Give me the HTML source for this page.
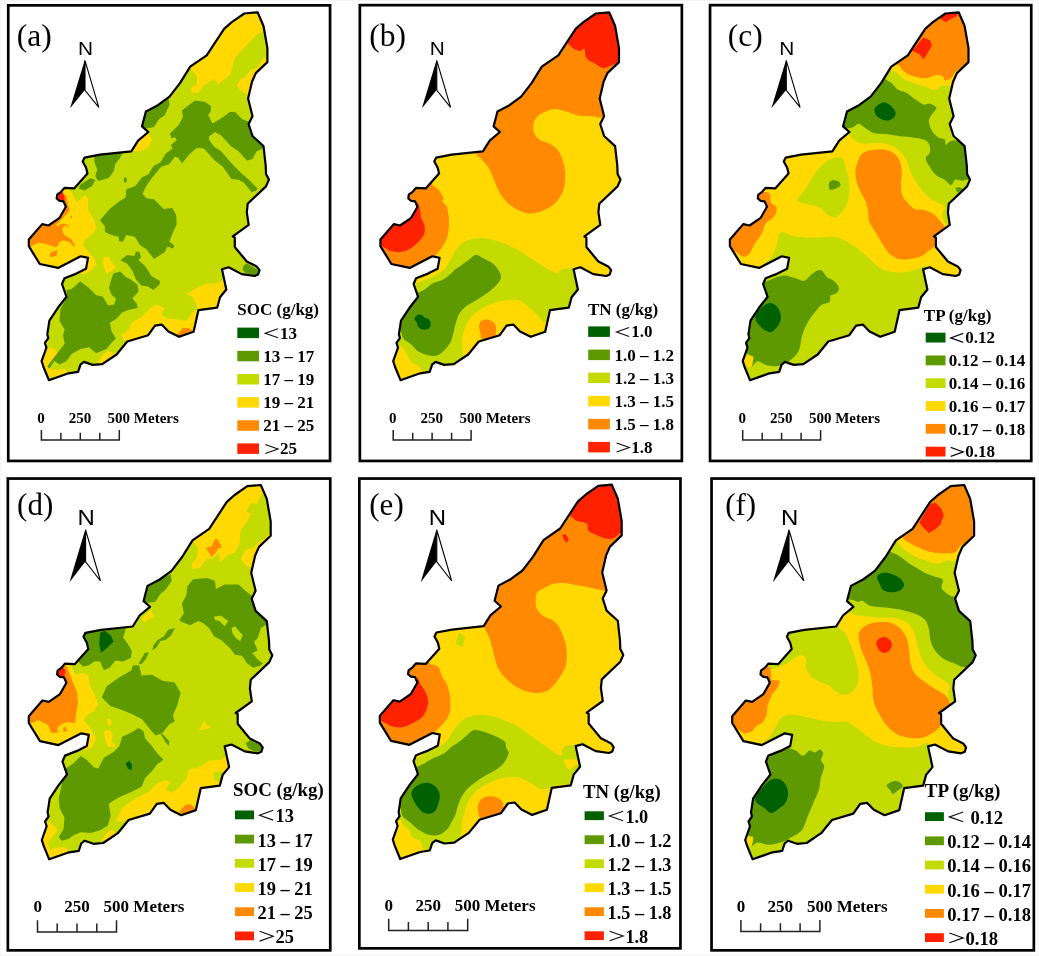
<!DOCTYPE html><html><head><meta charset="utf-8"><title>fig</title><style>html,body{margin:0;padding:0;background:#fff}svg{display:block;will-change:transform;opacity:0.999;filter:blur(0.35px)}text{font-family:"Liberation Serif",serif;fill:#000}.b{font-weight:bold}.s{font-family:"Liberation Sans",sans-serif}</style></head><body>
<svg width="1039" height="956" viewBox="0 0 1039 956">
<rect width="1039" height="956" fill="#fff"/>
<path d="M0,0H1039V956H0ZM1,1V954.5H1037.5V1Z" fill="#f5f5f5" fill-rule="evenodd"/>
<g id="pa">
<clipPath id="ca"><path d="M244.3,13.5L257.6,12.3L263.5,26L267.4,48.1L267.4,62.1L255.8,73.1L252,81.8L248.1,98.5L252.5,116.3L248.6,124L252.5,136L263.5,146.1L265.7,165.5L266,173.9L268.9,179.6L266,186.4L247.7,203.7L246.8,212.3L248.7,224.9L232.8,236.4L234.8,237.4L234.8,247L242,255.7L246.8,261.5L256.6,266.4L259.5,270.2L258.1,274.5L254.7,276L241.7,274.1L228.7,267.3L222,269.2L226.3,289.5L220,297.2L217.2,307.7L198.4,310.2L193.6,331.8L179.1,336.8L168.4,331.4L161.7,324.6L155,325.6L148.2,335.2L127.2,341.5L116.6,354.5L102.2,364.1L92.6,364.9L83.9,361.9L80.5,364.6L78.1,371.8L68.5,373.3L48.9,380.2L43.5,367L41.6,361.2L46.4,347.7L44.9,342.9L48.3,338.1L47.3,334.3L49.4,320.6L57.9,307.8L66.5,296.8L62,284L64.5,278.2L76.4,273.6L86,268.8L88,257.9L80.7,256.3L58.1,267.9L39.8,264L28.8,246.2L28.8,239.5L42.2,224.1L48.5,225.5L59.6,217.8L65.9,206.7L63.5,201.4L59.6,200.9L56.7,198.5L57.2,194.7L61.1,191.8L64.4,187.9L74.1,188.4L87.5,173.5L86.1,167.7L82.7,161.5L84.6,157.6L100,154.7L131.3,151.4L138.1,140.6L148.3,132L142,126.4L145.9,111.5L157.9,105.2L169.5,96.6L180,83.1L190.2,66.7L206.7,55.3L224.1,28.9L231.8,22.1Z"/></clipPath>
<g clip-path="url(#ca)"><path d="M244.3,13.5L257.6,12.3L263.5,26L267.4,48.1L267.4,62.1L255.8,73.1L252,81.8L248.1,98.5L252.5,116.3L248.6,124L252.5,136L263.5,146.1L265.7,165.5L266,173.9L268.9,179.6L266,186.4L247.7,203.7L246.8,212.3L248.7,224.9L232.8,236.4L234.8,237.4L234.8,247L242,255.7L246.8,261.5L256.6,266.4L259.5,270.2L258.1,274.5L254.7,276L241.7,274.1L228.7,267.3L222,269.2L226.3,289.5L220,297.2L217.2,307.7L198.4,310.2L193.6,331.8L179.1,336.8L168.4,331.4L161.7,324.6L155,325.6L148.2,335.2L127.2,341.5L116.6,354.5L102.2,364.1L92.6,364.9L83.9,361.9L80.5,364.6L78.1,371.8L68.5,373.3L48.9,380.2L43.5,367L41.6,361.2L46.4,347.7L44.9,342.9L48.3,338.1L47.3,334.3L49.4,320.6L57.9,307.8L66.5,296.8L62,284L64.5,278.2L76.4,273.6L86,268.8L88,257.9L80.7,256.3L58.1,267.9L39.8,264L28.8,246.2L28.8,239.5L42.2,224.1L48.5,225.5L59.6,217.8L65.9,206.7L63.5,201.4L59.6,200.9L56.7,198.5L57.2,194.7L61.1,191.8L64.4,187.9L74.1,188.4L87.5,173.5L86.1,167.7L82.7,161.5L84.6,157.6L100,154.7L131.3,151.4L138.1,140.6L148.3,132L142,126.4L145.9,111.5L157.9,105.2L169.5,96.6L180,83.1L190.2,66.7L206.7,55.3L224.1,28.9L231.8,22.1Z" fill="#c4db00"/>
<path d="M187.7,65.4L197.4,77L196.4,84.7L191.6,87.6L191.2,92.4L198.3,92.4L204.1,84.7L214.7,78.9L217.6,84.7L230.1,75.1L234.9,57.7L245.5,46.2L257,34.6L264.7,30.8L268.6,11.5L245.5,7.7L216.6,28.9Z" fill="#ffd900"/>
<path d="M264.7,57.7L262.8,58.7L258,67.4L250.3,70.3L245.5,77L240.7,78.9L236.8,85.7L240.7,90.5L247.4,94.3L253.2,96.2L260.9,73.1L272.4,61.6Z" fill="#ffd900"/>
<path d="M147.3,132.1L151.7,139L149.1,146.8L141.2,151.2L131.7,151.2L127.4,149.4L144.7,128.6Z" fill="#ffd900"/>
<path d="M66.4,185.8L72.2,193.5L77,202.2L84.7,195.4L87.6,197.4L88.5,210.8L94.3,220.5L96.2,228.2L92.4,233.9L84.7,239.7L82.8,245.5L89.5,253.2L94.3,258L96.2,264.7L90.5,270.5L84.7,274.4L77,272.4L57.7,272.4L19.2,264.7L19.2,222.4L53.9,187.7Z" fill="#ffd900"/>
<path d="M30.7,246.7L33.1,245.2L38.9,242.8L44.6,243.8L50.4,245.2L55.2,247.2L57.6,246.2L59.1,242.3L62.5,240.4L66.8,240.9L69.7,242.3L72.6,245.2L74.7,247.4L74,243.8L71.6,239.5L67.7,237.1L64.4,235.1L62.5,231.8L62.5,227.9L65.3,225.2L68.9,227.7L67.3,224.5L63.9,223.6L60,224.5L57.2,226.7L56.2,225L59.1,222.1L62,219.2L65.3,215.4L67.7,213.5L69.9,209.6L68.2,205.3L66.8,200L62,200L63.9,207.7L58.1,219.2L48.5,226L42.2,224.1L28.8,239.5L28.8,246.2Z" fill="#ff8a00"/>
<path d="M49.5,256.6L50.4,252.7L53.8,251.5L57.2,250L56.7,255.8L52.3,257Z" fill="#ff8a00"/>
<path d="M70.2,215.9L71.6,215.4L72.4,217.8L70.8,218.3Z" fill="#ff8a00"/>
<path d="M63.5,194.5L66.4,195.4L67.8,206L64.5,210.8L61.6,207Z" fill="#ff8a00"/>
<path d="M56.8,194.5L62.6,192L64.5,196.4L64.5,200.8L56.8,200.3Z" fill="#ff2200"/>
<path d="M103.8,256.9L109,256.9L111.6,262.1L115.9,267.3L111.6,270.8L106.4,273.4L103.8,267.3L102.9,262.1Z" fill="#ffd900"/>
<path d="M126.4,343.7L121.1,335L129,329.8L131.6,322.8L141.1,317.6L151.5,307.2L156.7,304.6L164.5,308.1L161.1,314.2L167.2,318.5L177.6,319.4L186.2,321.1L192.3,312.4L199.3,309L201.9,314.2L196.7,335L179.3,340.2L161.9,326.3L151.5,328.1L148.1,340.2Z" fill="#ffd900"/>
<path d="M176.7,335L182.8,328.1L188.9,328.1L193.2,331.5L179.3,338.5Z" fill="#ff8a00"/>
<path d="M186,293.7L194.7,289.3L205.1,284.1L217.3,283.3L224.2,278.9L229.4,289.3L219,309.3L197.3,311L197.3,307.6L193,297.2Z" fill="#ffd900"/>
<path d="M47.4,329.8L49.1,338.5L46.5,347.2L54.3,348.9L57.8,353.2L52.6,359.3L49.1,366.2L52.6,369.7L64.7,368.9L67.3,371.5L65.6,376.7L45.6,376.7L38.7,359.3L43.9,331.5Z" fill="#ffd900"/>
<path d="M97.7,362.8L101.2,356.7L108.1,350.6L113.3,354.1L122,348.9L123.8,354.1L111.6,362.8L99.4,364.5Z" fill="#ffd900"/>
<path d="M146.4,110.7L168.5,98.2L169.5,104.9L164.6,115.5L158.9,119.3L154.1,127L146.4,128.6L140.6,127Z" fill="#5e9900"/>
<path d="M195.1,100.5L204.6,101.7L211,106L210.7,112.1L208.1,114.7L212.4,123.4L222.8,117.3L229.8,112.1L235,111.8L241.9,119.1L248.9,121.7L250.6,130.3L255.8,139.9L264.5,146L261,149.4L256.7,151.2L252.4,159L247.2,160.7L238.5,151.2L231.5,146.8L221.1,135.6L215,132.1L209,136.4L209,139.9L214.2,146.8L221.1,151.2L231.5,163.3L241.9,173.8L248.9,179.8L257.6,188.5L255.8,191.1L251.5,192L243.7,182.4L238.5,179.8L231.5,179L222.8,166.8L214.2,159.9L203.8,148.6L196.8,147.7L189,154.7L182,163.3L178.6,158.1L175.1,156.4L169,164.2L161.2,166.8L152.5,177.2L146.8,185L143,192.8L136,201.5L125.6,198.1L126.5,189.4L135.2,185.9L142.1,177.2L148.2,174.6L153.4,165.9L160.3,162.5L165.6,153.8L172.5,148.6L170.8,145.1L176.8,139.9L175.1,137.3L171.6,138.2L169.9,133.8L178.6,125.1L182.9,117.3L182,110.4L189.9,104.3Z" fill="#5e9900"/>
<path d="M94.3,156L123.2,152.1L119.3,158.9L115.5,163.7L113.6,171.4L108.8,178.1L98.2,181L95.3,176.2L97.2,169.5L94.3,161.8Z" fill="#5e9900"/>
<path d="M79.9,184.9L90.5,178.1L95.3,180L92.4,185.8L84.7,190.6L78.9,188.7Z" fill="#5e9900"/>
<path d="M124.2,177.2L127,178.1L126.1,182.9L123.6,181.6Z" fill="#5e9900"/>
<path d="M128,187.7L134.7,193.5L142.4,193.5L146.3,198.3L154,199.3L163.6,208.9L172.3,208L176.1,214.7L176.7,224.3L172.3,233.9L169.4,241.6L174.2,245.5L173.2,248.4L167.5,246.5L164.6,252.2L154,259L146.3,249.3L140.5,245.5L134.7,236.8L126.1,234.9L123.2,241.6L119.3,241.6L118.4,236.8L111.6,234.9L104.9,232L104.9,226.2L100.1,220.5L103.9,215.7L109.7,208.9L119.3,201.2L127,196.4L126.1,191.6Z" fill="#5e9900"/>
<path d="M120.3,260.3L127.2,255.1L134.2,256L135.9,251.7L139.4,251.7L141.1,256.9L138.5,260.3L144.6,265.6L151.5,276L160.2,281.2L159.3,284.7L153.3,289.9L148.1,286.4L141.1,285.5L135.9,279.4L132.4,270.8L127.2,263.8Z" fill="#5e9900"/>
<path d="M113.3,273.4L120.3,271.6L125.5,276.8L130.7,279.4L137.6,284.7L138.5,291.6L132.4,298.5L136.8,303.8L137.6,308.1L129,309.8L122,312.4L116.8,318.5L109.9,322.8L111.6,331.5L115.9,338.5L111.6,342.8L106.4,348.9L96,353.2L89,347.2L80.3,348.9L71.7,354.1L66.5,361L59.5,364.5L54.3,361L49.1,368.9L47.4,366.2L52.6,359.3L57.8,352.4L64.7,343.7L63,335L64.7,329.8L59.5,321.1L60.4,309L67.3,296.8L66.5,289.9L71.7,289L80.3,281.2L89,288.1L96,295.1L102.9,296.8L108.1,305.5L114.2,304.6L115.9,298.5L111.6,295.1L109,288.1L110.7,281.2Z" fill="#5e9900"/>
<path d="M243.3,265.9L246.8,263.3L257.2,269.4L259.8,273.7L253.8,276.3L245.1,272.8L242.5,269.4Z" fill="#5e9900"/>
</g>
<path d="M244.3,13.5L257.6,12.3L263.5,26L267.4,48.1L267.4,62.1L255.8,73.1L252,81.8L248.1,98.5L252.5,116.3L248.6,124L252.5,136L263.5,146.1L265.7,165.5L266,173.9L268.9,179.6L266,186.4L247.7,203.7L246.8,212.3L248.7,224.9L232.8,236.4L234.8,237.4L234.8,247L242,255.7L246.8,261.5L256.6,266.4L259.5,270.2L258.1,274.5L254.7,276L241.7,274.1L228.7,267.3L222,269.2L226.3,289.5L220,297.2L217.2,307.7L198.4,310.2L193.6,331.8L179.1,336.8L168.4,331.4L161.7,324.6L155,325.6L148.2,335.2L127.2,341.5L116.6,354.5L102.2,364.1L92.6,364.9L83.9,361.9L80.5,364.6L78.1,371.8L68.5,373.3L48.9,380.2L43.5,367L41.6,361.2L46.4,347.7L44.9,342.9L48.3,338.1L47.3,334.3L49.4,320.6L57.9,307.8L66.5,296.8L62,284L64.5,278.2L76.4,273.6L86,268.8L88,257.9L80.7,256.3L58.1,267.9L39.8,264L28.8,246.2L28.8,239.5L42.2,224.1L48.5,225.5L59.6,217.8L65.9,206.7L63.5,201.4L59.6,200.9L56.7,198.5L57.2,194.7L61.1,191.8L64.4,187.9L74.1,188.4L87.5,173.5L86.1,167.7L82.7,161.5L84.6,157.6L100,154.7L131.3,151.4L138.1,140.6L148.3,132L142,126.4L145.9,111.5L157.9,105.2L169.5,96.6L180,83.1L190.2,66.7L206.7,55.3L224.1,28.9L231.8,22.1Z" fill="none" stroke="#000" stroke-width="2.2" stroke-linejoin="round"/>
<rect x="8.25" y="5.35" width="321.80" height="455.60" fill="none" stroke="#000" stroke-width="2.7"/>
<text x="0" y="46.4" font-size="31.2" text-anchor="middle" transform="translate(34.3 0) scale(1.01 1)">(a)</text>
<text class="s" x="0" y="55.3" font-size="18.75" text-anchor="middle" transform="translate(85.4 0) scale(1.11 1)">N</text>
<path d="M85,59.2L70.1,108.3L85,89.7Z" fill="#000"/>
<path d="M85,60.6L98.8,107.3L85,90.3Z" fill="#fff" stroke="#000" stroke-width="1.1"/>
<path d="M41.4,430.1V440.1H119.3V430.1M60.9,432.8V440.1M80.3,432.8V440.1M99.8,432.8V440.1" fill="none" stroke="#222" stroke-width="1.5"/>
<text class="b" x="37.3" y="422.8" font-size="15">0</text>
<text class="b" x="68.7" y="422.8" font-size="15">250</text>
<text class="b" x="107.6" y="422.8" font-size="15">500 Meters</text>
<text class="b" x="0" y="315.4" font-size="17" transform="translate(237.3 0) scale(1.0 1)">SOC (g/kg)</text>
<rect x="237.3" y="327.6" width="21.7" height="10.5" fill="#006100"/>
<path d="M277.9,328.7L265.3,333.2L277.9,337.7" fill="none" stroke="#111" stroke-width="1.2"/>
<text class="b" x="279.9" y="338.6" font-size="17">13</text>
<rect x="237.3" y="350.8" width="21.7" height="10.5" fill="#5e9900"/>
<text class="b" x="263.3" y="361.8" font-size="17">13 – 17</text>
<rect x="237.3" y="374.0" width="21.7" height="10.5" fill="#c4db00"/>
<text class="b" x="263.3" y="384.9" font-size="17">17 – 19</text>
<rect x="237.3" y="397.1" width="21.7" height="10.5" fill="#ffd900"/>
<text class="b" x="263.3" y="408.1" font-size="17">19 – 21</text>
<rect x="237.3" y="420.3" width="21.7" height="10.5" fill="#ff8a00"/>
<text class="b" x="263.3" y="431.2" font-size="17">21 – 25</text>
<rect x="237.3" y="443.4" width="21.7" height="10.5" fill="#ff2200"/>
<path d="M265.3,444.5L277.9,449.0L265.3,453.5" fill="none" stroke="#111" stroke-width="1.2"/>
<text class="b" x="279.9" y="454.4" font-size="17">25</text>
</g>
<g id="pb">
<clipPath id="cb"><path d="M595.9,13.5L609.2,12.3L615.1,26L619,48.1L619,62.1L607.4,73.1L603.6,81.8L599.7,98.5L604.1,116.3L600.2,124L604.1,136L615.1,146.1L617.3,165.5L617.6,173.9L620.5,179.6L617.6,186.4L599.3,203.7L598.4,212.3L600.3,224.9L584.4,236.4L586.4,237.4L586.4,247L593.6,255.7L598.4,261.5L608.2,266.4L611.1,270.2L609.7,274.5L606.3,276L593.3,274.1L580.3,267.3L573.6,269.2L577.9,289.5L571.6,297.2L568.8,307.7L550,310.2L545.2,331.8L530.7,336.8L520,331.4L513.3,324.6L506.6,325.6L499.8,335.2L478.8,341.5L468.2,354.5L453.8,364.1L444.2,364.9L435.5,361.9L432.1,364.6L429.7,371.8L420.1,373.3L400.5,380.2L395.1,367L393.2,361.2L398,347.7L396.5,342.9L399.9,338.1L398.9,334.3L401,320.6L409.5,307.8L418.1,296.8L413.6,284L416.1,278.2L428,273.6L437.6,268.8L439.6,257.9L432.3,256.3L409.7,267.9L391.4,264L380.4,246.2L380.4,239.5L393.8,224.1L400.1,225.5L411.2,217.8L417.5,206.7L415.1,201.4L411.2,200.9L408.3,198.5L408.8,194.7L412.7,191.8L416,187.9L425.7,188.4L439.1,173.5L437.7,167.7L434.3,161.5L436.2,157.6L451.6,154.7L482.9,151.4L489.7,140.6L499.9,132L493.6,126.4L497.5,111.5L509.5,105.2L521.1,96.6L531.6,83.1L541.8,66.7L558.3,55.3L575.7,28.9L583.4,22.1Z"/></clipPath>
<g clip-path="url(#cb)"><path d="M595.9,13.5L609.2,12.3L615.1,26L619,48.1L619,62.1L607.4,73.1L603.6,81.8L599.7,98.5L604.1,116.3L600.2,124L604.1,136L615.1,146.1L617.3,165.5L617.6,173.9L620.5,179.6L617.6,186.4L599.3,203.7L598.4,212.3L600.3,224.9L584.4,236.4L586.4,237.4L586.4,247L593.6,255.7L598.4,261.5L608.2,266.4L611.1,270.2L609.7,274.5L606.3,276L593.3,274.1L580.3,267.3L573.6,269.2L577.9,289.5L571.6,297.2L568.8,307.7L550,310.2L545.2,331.8L530.7,336.8L520,331.4L513.3,324.6L506.6,325.6L499.8,335.2L478.8,341.5L468.2,354.5L453.8,364.1L444.2,364.9L435.5,361.9L432.1,364.6L429.7,371.8L420.1,373.3L400.5,380.2L395.1,367L393.2,361.2L398,347.7L396.5,342.9L399.9,338.1L398.9,334.3L401,320.6L409.5,307.8L418.1,296.8L413.6,284L416.1,278.2L428,273.6L437.6,268.8L439.6,257.9L432.3,256.3L409.7,267.9L391.4,264L380.4,246.2L380.4,239.5L393.8,224.1L400.1,225.5L411.2,217.8L417.5,206.7L415.1,201.4L411.2,200.9L408.3,198.5L408.8,194.7L412.7,191.8L416,187.9L425.7,188.4L439.1,173.5L437.7,167.7L434.3,161.5L436.2,157.6L451.6,154.7L482.9,151.4L489.7,140.6L499.9,132L493.6,126.4L497.5,111.5L509.5,105.2L521.1,96.6L531.6,83.1L541.8,66.7L558.3,55.3L575.7,28.9L583.4,22.1Z" fill="#ffd900"/>
<path d="M474,140C475.1,149.0 475.2,150.7 476.5,153.9C477.8,157.1 479.6,156.7 481.7,159.2C483.8,161.7 486.9,164.6 489.2,168.7C491.5,172.8 493.4,178.9 495.5,183.5C497.6,188.1 499.1,192.3 501.9,196.2C504.7,200.1 508.2,204.0 512.4,206.8C516.6,209.6 522.3,212.5 527.3,213.2C532.2,213.9 537.5,212.6 542.1,211C546.7,209.4 551.4,206.6 554.8,203.6C558.1,200.6 560.5,196.7 562.2,193C563.9,189.3 564.6,185.8 565,181.4C565.4,177.0 565.3,171.5 564.3,166.6C563.3,161.7 561.3,155.5 559,151.8C556.7,148.1 553.8,146.2 550.6,144.3C547.4,142.4 542.8,142.0 540,140.1C537.2,138.2 535.1,135.3 534,132.7C532.9,130.0 533.2,126.7 533.5,124.2C533.8,121.8 534.6,119.8 536,118C537.4,116.2 538.9,114.8 542,113.3C545.1,111.8 550.5,109.2 554.7,109C558.9,108.8 563.5,110.7 567.4,111.8C571.3,112.9 574.5,114.7 578,115.4C581.5,116.1 584.6,115.7 588.6,116C592.6,116.3 597.9,117.3 602.3,117.5C606.7,117.7 608.7,126.6 615,117C621.3,107.4 639.2,79.5 640,60C640.8,40.5 630.0,10.0 620,0C610.0,-10.0 605.0,-16.7 580,0C555.0,16.7 487.7,76.7 470,100C452.3,123.3 472.9,131.0 474,140Z" fill="#ff8a00"/>
<path d="M560,36C556.3,43.2 565.5,41.3 567.8,43.4C570.1,45.5 571.7,47.5 573.7,48.7C575.8,49.9 578.3,50.7 580.1,50.8C581.9,50.9 583.2,47.9 584.3,49.1C585.4,50.3 584.7,55.8 586.5,58.2C588.3,60.6 592.1,61.8 594.9,63.5C597.7,65.2 600.8,67.9 603.4,68.2C606.0,68.5 608.3,66.5 610.8,65.6C613.3,64.6 615.0,64.3 618.2,62.5C621.4,60.7 628.9,64.6 630,55C631.1,45.4 631.7,14.2 625,5C618.3,-4.2 600.8,-5.2 590,0C579.2,5.2 563.7,28.8 560,36Z" fill="#ff2200"/>
<path d="M428,180C433.5,179.3 431.1,183.8 433,185.6C434.9,187.4 437.6,188.8 439.4,190.9C441.2,193.0 443.2,196.5 443.6,198.3C444.0,200.1 441.5,200.1 442,201.5C442.5,202.9 445.7,203.8 446.8,206.8C447.9,209.8 448.7,214.9 448.9,219.5C449.1,224.1 448.8,230.1 447.9,234.3C447.0,238.5 445.6,241.6 443.6,244.9C441.7,248.2 438.5,251.9 436.2,254.4C433.9,256.9 436.0,256.6 430,260C424.0,263.4 410.0,276.7 400,275C390.0,273.3 374.2,258.3 370,250C365.8,241.7 370.0,235.0 375,225C380.0,215.0 391.2,197.5 400,190C408.8,182.5 422.5,180.7 428,180Z" fill="#ff8a00"/>
<path d="M417,203C419.6,204.0 419.6,208.6 420.3,211C421.0,213.4 420.3,214.9 421,217.4C421.7,219.9 424.2,222.9 424.6,225.9C425.0,228.9 425.1,232.2 423.5,235.4C421.9,238.6 418.2,242.2 415,244.9C411.8,247.6 408.4,250.2 404.5,251.3C400.6,252.4 395.3,252.0 391.8,251.3C388.3,250.6 386.6,248.9 383.3,247C380.0,245.1 371.7,245.3 372,240C372.3,234.7 379.5,220.8 385,215C390.5,209.2 399.7,207.0 405,205C410.3,203.0 414.4,202.0 417,203Z" fill="#ff2200"/>
<path d="M406,287C409.4,281.8 412.8,284.7 415.6,283.7C418.5,282.7 420.1,282.1 423.1,280.8C426.1,279.6 430.2,277.9 433.5,276.2C436.8,274.5 440.0,272.9 442.7,270.4C445.4,267.9 447.6,264.5 449.7,261.2C451.8,257.9 453.5,253.7 455.4,250.8C457.3,247.9 458.9,245.7 461.2,243.9C463.5,242.1 466.0,240.8 469.3,239.8C472.6,238.8 477.0,238.1 480.9,238.1C484.8,238.1 488.5,238.9 492.4,239.8C496.2,240.7 500.1,241.8 504,243.3C507.9,244.8 510.8,245.9 515.5,248.6C520.2,251.2 526.8,255.7 532.4,259.2C538.0,262.7 545.1,267.5 549.4,269.8C553.6,272.1 555.8,273.0 557.9,272.9C560.0,272.8 559.3,269.9 562.1,269.1C564.9,268.3 571.0,268.5 574.8,268.3C578.6,268.1 582.8,264.4 585,268C587.2,271.6 590.2,283.0 588,290C585.8,297.0 576.7,306.9 572,310C567.3,313.1 563.3,307.8 560,308.5C556.7,309.2 554.5,311.8 552,314C549.5,316.2 546.9,321.1 545,322C543.1,322.9 542.3,320.8 540.9,319.5C539.5,318.2 538.8,316.3 536.7,314.2C534.6,312.1 531.2,309.1 528.2,306.8C525.2,304.5 522.3,301.4 519,300.2C515.7,299.0 511.9,299.7 508.6,299.9C505.3,300.1 502.6,300.7 499.3,301.6C496.0,302.5 492.4,303.6 488.9,305.1C485.4,306.7 481.6,308.8 478.5,310.9C475.4,313.0 472.6,315.3 470.5,317.8C468.4,320.3 467.1,323.2 465.8,325.9C464.6,328.6 463.7,331.2 463,333.9C462.3,336.6 461.8,338.4 461.7,342C461.6,345.6 463.2,352.2 462.6,355.5C462.0,358.8 460.4,359.1 458.3,361.9C456.2,364.6 455.5,370.0 450,372C444.5,374.0 430.6,375.0 425.5,374C420.4,373.0 421.5,368.0 419.2,366.1C416.9,364.2 413.8,364.7 411.8,362.9C409.9,361.1 409.1,358.1 407.5,355.5C405.9,352.9 403.8,348.8 402.2,347C400.6,345.2 400.4,346.1 398,344.9C395.6,343.7 388.5,345.0 388,340C387.5,335.0 392.0,323.8 395,315C398.0,306.2 402.6,292.2 406,287Z" fill="#c4db00"/>
<path d="M476.2,254.8C478.5,254.6 480.7,257.1 483.2,258.3C485.7,259.6 488.9,260.7 491.2,262.3C493.5,263.9 495.4,265.8 497,268.1C498.6,270.4 500.9,273.7 501.1,276.2C501.3,278.7 499.9,280.8 498.2,283.1C496.5,285.4 493.7,288.0 491.2,290.1C488.7,292.2 486.1,293.9 483.2,295.8C480.3,297.7 477.0,299.7 473.9,301.6C470.8,303.5 467.2,305.3 464.7,307.4C462.2,309.5 460.4,311.4 458.9,314.3C457.3,317.2 456.4,321.4 455.4,324.7C454.4,328.0 454.1,330.7 453.1,333.9C452.1,337.1 451.8,340.6 449.5,344C447.2,347.4 442.8,352.5 439.3,354.4C435.8,356.3 432.2,356.0 428.7,355.5C425.2,355.0 420.9,353.1 418.1,351.3C415.3,349.5 414.3,347.0 411.8,344.9C409.3,342.8 405.2,341.1 403.3,338.6C401.4,336.1 402.0,332.9 400.1,330.1C398.2,327.3 391.2,327.4 392,322C392.8,316.6 400.6,302.9 405,298C409.4,293.1 415.1,293.9 418.5,292.4C421.9,290.9 422.9,290.4 425.4,288.9C427.9,287.3 430.6,284.6 433.5,283.1C436.4,281.6 439.6,281.4 442.7,279.7C445.8,278.0 449.9,274.4 452,272.7C454.1,271.0 453.7,270.6 455.4,269.3C457.1,268.0 460.1,266.2 462.4,264.6C464.7,263.0 467.0,261.1 469.3,259.5C471.6,257.9 473.9,255.0 476.2,254.8Z" fill="#5e9900"/>
<path d="M414.4,318.9C414.5,317.6 416.1,315.6 417.3,314.9C418.6,314.2 420.6,314.4 421.9,314.9C423.1,315.4 423.7,317.1 424.8,317.8C425.9,318.5 427.3,318.1 428.3,318.9C429.3,319.7 430.3,321.0 430.6,322.4C430.9,323.8 430.6,325.9 430,327C429.4,328.1 428.5,328.9 427.1,329.3C425.8,329.7 423.4,329.8 421.9,329.3C420.4,328.8 418.8,327.5 417.9,326.4C417.0,325.2 417.3,323.6 416.7,322.4C416.1,321.1 414.3,320.1 414.4,318.9Z" fill="#006100"/>
<path d="M479.1,325.9C479.2,324.0 479.8,322.3 480.9,321.2C482.0,320.1 483.8,319.6 485.5,319.5C487.2,319.4 489.6,319.8 491.2,320.7C492.8,321.6 494.5,323.1 495.3,324.7C496.1,326.3 496.1,328.4 495.9,330.5C495.7,332.6 496.2,335.9 494.1,337.5C492.0,339.1 485.5,340.8 483.2,340C480.9,339.2 481.0,335.2 480.3,332.8C479.6,330.4 479.0,327.8 479.1,325.9Z" fill="#ff8a00"/>
</g>
<path d="M595.9,13.5L609.2,12.3L615.1,26L619,48.1L619,62.1L607.4,73.1L603.6,81.8L599.7,98.5L604.1,116.3L600.2,124L604.1,136L615.1,146.1L617.3,165.5L617.6,173.9L620.5,179.6L617.6,186.4L599.3,203.7L598.4,212.3L600.3,224.9L584.4,236.4L586.4,237.4L586.4,247L593.6,255.7L598.4,261.5L608.2,266.4L611.1,270.2L609.7,274.5L606.3,276L593.3,274.1L580.3,267.3L573.6,269.2L577.9,289.5L571.6,297.2L568.8,307.7L550,310.2L545.2,331.8L530.7,336.8L520,331.4L513.3,324.6L506.6,325.6L499.8,335.2L478.8,341.5L468.2,354.5L453.8,364.1L444.2,364.9L435.5,361.9L432.1,364.6L429.7,371.8L420.1,373.3L400.5,380.2L395.1,367L393.2,361.2L398,347.7L396.5,342.9L399.9,338.1L398.9,334.3L401,320.6L409.5,307.8L418.1,296.8L413.6,284L416.1,278.2L428,273.6L437.6,268.8L439.6,257.9L432.3,256.3L409.7,267.9L391.4,264L380.4,246.2L380.4,239.5L393.8,224.1L400.1,225.5L411.2,217.8L417.5,206.7L415.1,201.4L411.2,200.9L408.3,198.5L408.8,194.7L412.7,191.8L416,187.9L425.7,188.4L439.1,173.5L437.7,167.7L434.3,161.5L436.2,157.6L451.6,154.7L482.9,151.4L489.7,140.6L499.9,132L493.6,126.4L497.5,111.5L509.5,105.2L521.1,96.6L531.6,83.1L541.8,66.7L558.3,55.3L575.7,28.9L583.4,22.1Z" fill="none" stroke="#000" stroke-width="2.2" stroke-linejoin="round"/>
<rect x="359.85" y="5.15" width="322.00" height="455.80" fill="none" stroke="#000" stroke-width="2.7"/>
<text x="0" y="46.4" font-size="31.2" text-anchor="middle" transform="translate(387.6 0) scale(1.01 1)">(b)</text>
<text class="s" x="0" y="55.3" font-size="18.75" text-anchor="middle" transform="translate(437.2 0) scale(1.11 1)">N</text>
<path d="M436.8,59.2L421.9,108.3L436.8,89.7Z" fill="#000"/>
<path d="M436.8,60.6L450.6,107.3L436.8,90.3Z" fill="#fff" stroke="#000" stroke-width="1.1"/>
<path d="M393.2,430.1V440.1H471.1V430.1M412.7,432.8V440.1M432.1,432.8V440.1M451.6,432.8V440.1" fill="none" stroke="#222" stroke-width="1.5"/>
<text class="b" x="389.1" y="422.8" font-size="15">0</text>
<text class="b" x="420.5" y="422.8" font-size="15">250</text>
<text class="b" x="459.4" y="422.8" font-size="15">500 Meters</text>
<text class="b" x="0" y="315.4" font-size="17" transform="translate(587.9 0) scale(1.0 1)">TN (g/kg)</text>
<rect x="588.2" y="326.4" width="21.7" height="10.5" fill="#006100"/>
<path d="M629.2,327.5L616.6,332.0L629.2,336.5" fill="none" stroke="#111" stroke-width="1.2"/>
<text class="b" x="631.2" y="337.4" font-size="17">1.0</text>
<rect x="588.2" y="349.6" width="21.7" height="10.5" fill="#5e9900"/>
<text class="b" x="614.6" y="360.5" font-size="17">1.0 – 1.2</text>
<rect x="588.2" y="372.6" width="21.7" height="10.5" fill="#c4db00"/>
<text class="b" x="614.6" y="383.6" font-size="17">1.2 – 1.3</text>
<rect x="588.2" y="395.8" width="21.7" height="10.5" fill="#ffd900"/>
<text class="b" x="614.6" y="406.7" font-size="17">1.3 – 1.5</text>
<rect x="588.2" y="418.9" width="21.7" height="10.5" fill="#ff8a00"/>
<text class="b" x="614.6" y="429.8" font-size="17">1.5 – 1.8</text>
<rect x="588.2" y="441.9" width="21.7" height="10.5" fill="#ff2200"/>
<path d="M616.6,443.0L629.2,447.5L616.6,452.0" fill="none" stroke="#111" stroke-width="1.2"/>
<text class="b" x="631.2" y="452.9" font-size="17">1.8</text>
</g>
<g id="pc">
<clipPath id="cc"><path d="M945.4,13.5L958.7,12.3L964.6,26L968.5,48.1L968.5,62.1L956.9,73.1L953.1,81.8L949.2,98.5L953.6,116.3L949.7,124L953.6,136L964.6,146.1L966.8,165.5L967.1,173.9L970,179.6L967.1,186.4L948.8,203.7L947.9,212.3L949.8,224.9L933.9,236.4L935.9,237.4L935.9,247L943.1,255.7L947.9,261.5L957.7,266.4L960.6,270.2L959.2,274.5L955.8,276L942.8,274.1L929.8,267.3L923.1,269.2L927.4,289.5L921.1,297.2L918.3,307.7L899.5,310.2L894.7,331.8L880.2,336.8L869.5,331.4L862.8,324.6L856.1,325.6L849.3,335.2L828.3,341.5L817.7,354.5L803.3,364.1L793.7,364.9L785,361.9L781.6,364.6L779.2,371.8L769.6,373.3L750,380.2L744.6,367L742.7,361.2L747.5,347.7L746,342.9L749.4,338.1L748.4,334.3L750.5,320.6L759,307.8L767.6,296.8L763.1,284L765.6,278.2L777.5,273.6L787.1,268.8L789.1,257.9L781.8,256.3L759.2,267.9L740.9,264L729.9,246.2L729.9,239.5L743.3,224.1L749.6,225.5L760.7,217.8L767,206.7L764.6,201.4L760.7,200.9L757.8,198.5L758.3,194.7L762.2,191.8L765.5,187.9L775.2,188.4L788.6,173.5L787.2,167.7L783.8,161.5L785.7,157.6L801.1,154.7L832.4,151.4L839.2,140.6L849.4,132L843.1,126.4L847,111.5L859,105.2L870.6,96.6L881.1,83.1L891.3,66.7L907.8,55.3L925.2,28.9L932.9,22.1Z"/></clipPath>
<g clip-path="url(#cc)"><path d="M945.4,13.5L958.7,12.3L964.6,26L968.5,48.1L968.5,62.1L956.9,73.1L953.1,81.8L949.2,98.5L953.6,116.3L949.7,124L953.6,136L964.6,146.1L966.8,165.5L967.1,173.9L970,179.6L967.1,186.4L948.8,203.7L947.9,212.3L949.8,224.9L933.9,236.4L935.9,237.4L935.9,247L943.1,255.7L947.9,261.5L957.7,266.4L960.6,270.2L959.2,274.5L955.8,276L942.8,274.1L929.8,267.3L923.1,269.2L927.4,289.5L921.1,297.2L918.3,307.7L899.5,310.2L894.7,331.8L880.2,336.8L869.5,331.4L862.8,324.6L856.1,325.6L849.3,335.2L828.3,341.5L817.7,354.5L803.3,364.1L793.7,364.9L785,361.9L781.6,364.6L779.2,371.8L769.6,373.3L750,380.2L744.6,367L742.7,361.2L747.5,347.7L746,342.9L749.4,338.1L748.4,334.3L750.5,320.6L759,307.8L767.6,296.8L763.1,284L765.6,278.2L777.5,273.6L787.1,268.8L789.1,257.9L781.8,256.3L759.2,267.9L740.9,264L729.9,246.2L729.9,239.5L743.3,224.1L749.6,225.5L760.7,217.8L767,206.7L764.6,201.4L760.7,200.9L757.8,198.5L758.3,194.7L762.2,191.8L765.5,187.9L775.2,188.4L788.6,173.5L787.2,167.7L783.8,161.5L785.7,157.6L801.1,154.7L832.4,151.4L839.2,140.6L849.4,132L843.1,126.4L847,111.5L859,105.2L870.6,96.6L881.1,83.1L891.3,66.7L907.8,55.3L925.2,28.9L932.9,22.1Z" fill="#ffd900"/>
<path d="M840,128C834.6,140.2 845.2,131.3 847.5,133.2C849.8,135.1 851.3,137.8 853.8,139.5C856.3,141.2 858.1,143.2 862.3,143.7C866.5,144.2 874.3,142.3 879.2,142.7C884.1,143.0 888.4,144.2 891.9,145.8C895.4,147.4 897.8,149.7 900.3,152.2C902.8,154.7 904.9,157.1 906.7,160.6C908.5,164.1 909.1,169.4 910.9,173.3C912.6,177.2 914.7,180.4 917.2,183.9C919.7,187.4 923.2,191.9 925.7,194.5C928.2,197.1 929.5,198.1 932,199.7C934.5,201.3 938.8,202.8 941,204.1C943.2,205.4 944.8,205.8 945,207.5C945.2,209.2 941.9,211.8 942,214.4C942.1,217.0 943.3,221.2 945.5,223C947.7,224.8 947.6,233.8 955,225C962.4,216.2 986.7,199.2 990,170C993.3,140.8 983.3,78.3 975,50C966.7,21.7 955.8,-1.7 940,0C924.2,1.7 896.7,38.7 880,60C863.3,81.3 845.4,115.8 840,128Z" fill="#c4db00"/>
<path d="M888,62C882.5,72.5 894.5,70.0 897.2,72.9C900.0,75.8 901.5,77.5 904.5,79.3C907.5,81.1 911.6,82.3 915.1,83.5C918.6,84.7 922.4,85.7 925.7,86.7C929.1,87.8 932.4,90.0 935.2,89.8C938.0,89.6 940.1,86.3 942.6,85.6C945.1,84.9 947.6,86.5 950,85.6C952.4,84.7 952.8,84.3 957,80C961.2,75.7 974.5,71.7 975,60C975.5,48.3 967.5,18.3 960,10C952.5,1.7 942.0,1.3 930,10C918.0,18.7 893.5,51.5 888,62Z" fill="#ffd900"/>
<path d="M893,58C887.0,68.1 897.4,63.2 899.3,65.5C901.2,67.8 902.2,70.1 904.5,71.9C906.8,73.7 909.5,75.0 913,76.1C916.5,77.1 921.8,78.4 925.7,78.2C929.6,78.0 933.5,75.3 936.3,75C939.1,74.7 941.2,75.2 942.6,76.1C944.0,77.0 943.3,79.9 944.7,80.3C946.1,80.7 949.2,79.6 951,78.2C952.8,76.8 953.9,73.5 955.3,71.9C956.7,70.3 956.7,70.7 959.5,68.7C962.3,66.7 971.1,70.6 972,60C972.9,49.4 971.2,14.2 965,5C958.8,-4.2 947.0,-3.8 935,5C923.0,13.8 899.0,47.9 893,58Z" fill="#ff8a00"/>
<path d="M938.4,16.9L944.7,12.7L957.4,11.6L957.4,15.9L951.1,19L945.8,22.2L942.6,20.1Z" fill="#ff2200"/>
<path d="M911.9,50.7L923.6,37.6L929.9,40.2L932,45.4L927.8,52.8L923.6,59.2L919.3,53.9Z" fill="#ff2200"/>
<path d="M880,75C888.4,69.9 883.5,77.9 885.5,79.3C887.5,80.7 889.8,81.8 891.9,83.5C894.0,85.2 895.7,88.2 898.2,89.8C900.7,91.4 903.9,91.4 906.7,93C909.5,94.6 912.3,97.4 915.1,99.3C917.9,101.2 921.1,103.9 923.6,104.6C926.1,105.3 927.8,103.1 929.9,103.6C932.0,104.1 935.8,106.2 936.3,107.8C936.8,109.4 934.3,111.0 933.1,113.1C931.9,115.2 929.1,117.5 928.9,120.5C928.7,123.5 930.4,128.2 932,131C933.6,133.8 936.3,136.0 938.4,137.4C940.5,138.8 943.5,138.3 944.7,139.5C945.9,140.7 944.9,144.5 945.8,144.8C946.7,145.2 948.4,142.3 950,141.6C951.6,140.9 952.3,140.5 955.3,140.6C958.3,140.7 964.7,138.8 968,142C971.3,145.2 974.3,154.0 975,160C975.7,166.0 973.5,174.7 972,178C970.5,181.3 967.6,179.2 965.9,179.7C964.2,180.1 963.4,180.7 961.6,180.7C959.8,180.7 957.1,179.0 955.3,179.7C953.5,180.4 952.8,185.0 951,185C949.2,185.0 947.2,181.3 944.7,179.7C942.2,178.1 938.8,177.5 936.3,175.4C933.8,173.3 931.7,169.8 929.9,167C928.1,164.2 925.7,161.0 925.7,158.5C925.7,156.0 929.4,154.7 929.9,152.2C930.4,149.7 929.9,145.8 928.9,143.7C927.9,141.6 926.2,140.6 923.6,139.5C921.0,138.4 916.9,137.9 913,137.4C909.1,136.9 904.5,136.8 900.3,136.3C896.1,135.8 891.8,134.7 887.6,134.2C883.4,133.7 878.5,134.1 875,133.2C871.5,132.3 869.1,130.5 866.5,128.9C863.9,127.3 861.2,124.1 859.1,123.7C857.0,123.3 855.4,126.1 853.8,126.8C852.2,127.5 852.2,127.7 849.6,127.9C847.0,128.1 840.4,131.0 838,128C835.6,125.0 828.0,118.8 835,110C842.0,101.2 871.6,80.1 880,75Z" fill="#5e9900"/>
<path d="M875,107.8C876.0,106.1 879.5,104.0 881.3,103.1C883.0,102.2 883.7,101.9 885.5,102.5C887.3,103.1 890.2,104.9 891.9,106.7C893.6,108.5 895.5,111.1 895.7,113.1C895.9,115.0 894.6,117.2 892.9,118.4C891.2,119.6 888.0,120.7 885.5,120.5C883.0,120.3 879.9,118.5 878.1,117.3C876.4,116.1 875.5,114.7 875,113.1C874.5,111.5 874.0,109.5 875,107.8Z" fill="#006100"/>
<path d="M955.3,188.1L959,187L963.5,189.2L957.4,192.8Z" fill="#5e9900"/>
<path d="M857.6,162.3C858.5,159.7 859.0,156.8 860.8,154.9C862.6,153.0 864.9,151.6 868.2,150.7C871.6,149.8 877.0,149.0 880.9,149.2C884.8,149.4 888.5,150.1 891.5,151.8C894.5,153.5 897.2,156.0 898.9,159.2C900.6,162.4 901.4,166.4 901.7,170.8C902.1,175.2 900.9,181.4 901,185.6C901.1,189.8 901.3,193.0 902.5,196C903.7,199.0 906.1,201.2 908.2,203.4C910.3,205.6 912.5,208.2 915.1,209.3C917.7,210.4 920.8,209.4 923.7,210.1C926.6,210.8 930.1,212.3 932.4,213.6C934.7,214.9 935.4,215.5 937.5,217.9C939.6,220.3 944.6,225.2 945,228.2C945.4,231.2 941.7,233.1 940,236C938.3,238.9 936.8,243.0 934.9,245.4C933.0,247.8 931.3,248.7 928.9,250.6C926.5,252.5 923.8,255.2 920.3,256.6C916.8,258.0 911.9,258.9 908.2,259.2C904.5,259.5 901.0,259.7 897.9,258.7C894.8,257.7 891.9,255.7 889.4,253.4C886.9,251.1 885.1,248.1 883,244.9C880.9,241.7 879.0,238.2 876.7,234.3C874.4,230.4 870.7,225.1 869.3,221.6C867.9,218.1 868.7,216.4 868.2,213.2C867.7,210.0 867.3,206.1 866.1,202.6C864.9,199.1 862.4,195.5 860.8,192C859.2,188.5 857.5,184.9 856.6,181.4C855.7,177.9 855.3,174.0 855.5,170.8C855.7,167.6 856.7,165.0 857.6,162.3Z" fill="#ff8a00"/>
<path d="M797.3,199.4C798.0,197.3 802.4,193.2 804.7,189.9C807.0,186.6 808.5,183.0 811,179.3C813.5,175.6 816.3,170.9 819.5,167.6C822.7,164.2 826.4,160.8 830.1,159.2C833.8,157.6 839.1,156.5 841.7,158.1C844.4,159.7 844.8,164.5 846,168.7C847.2,172.9 848.9,178.2 849.2,183.5C849.6,188.8 849.2,195.9 848.1,200.5C847.0,205.1 844.9,208.2 842.8,211C840.7,213.8 838.0,216.9 835.4,217.4C832.8,217.9 829.4,215.8 826.9,214.2C824.4,212.6 823.6,209.5 820.6,207.9C817.6,206.3 812.2,205.6 808.9,204.7C805.5,203.8 802.4,203.5 800.5,202.6C798.6,201.7 796.6,201.5 797.3,199.4Z" fill="#c4db00"/>
<path d="M829,183.5C829.4,182.0 830.6,180.7 832.2,180.3C833.8,180.0 837.2,180.5 838.6,181.4C840.0,182.3 840.8,184.4 840.3,185.6C839.8,186.8 837.2,188.2 835.4,188.8C833.6,189.4 830.8,190.3 829.7,189.4C828.6,188.5 828.6,185.0 829,183.5Z" fill="#5e9900"/>
<path d="M764.5,192C767.0,191.8 768.8,192.3 769.8,194.1C770.8,195.9 769.8,200.5 770.8,202.6C771.8,204.7 775.2,205.0 776.1,206.8C777.0,208.6 776.8,211.2 776.1,213.2C775.4,215.1 773.7,216.8 771.9,218.5C770.1,220.2 767.3,221.1 765.5,223.7C763.7,226.3 763.2,230.8 761.3,234.3C759.4,237.8 755.8,241.7 753.9,244.9C752.0,248.1 751.4,251.4 749.6,253.4C747.8,255.4 745.8,257.0 743.3,256.6C740.8,256.2 738.3,253.2 734.8,251.3C731.2,249.4 722.0,250.2 722,245C722.0,239.8 729.5,225.0 735,220C740.5,215.0 750.0,217.5 755,215C760.0,212.5 765.0,208.3 765,205C765.0,201.7 755.1,197.2 755,195C754.9,192.8 762.0,192.2 764.5,192Z" fill="#ff8a00"/>
<path d="M755,272C759.4,261.4 758.7,268.5 761.3,266.1C763.9,263.7 768.3,260.8 770.8,257.6C773.3,254.4 774.7,250.9 776.1,247C777.5,243.1 778.1,236.8 779.3,234.3C780.5,231.8 781.4,232.0 783.5,232.2C785.6,232.4 788.5,234.5 792,235.4C795.5,236.3 800.1,237.2 804.7,237.5C809.3,237.8 814.9,237.7 819.5,237.5C824.1,237.3 828.3,236.2 832.2,236.5C836.1,236.8 838.9,237.8 842.8,239.6C846.7,241.3 851.3,244.0 855.5,247C859.7,250.0 864.3,254.3 868.2,257.6C872.1,261.0 875.3,264.8 878.8,267.1C882.3,269.4 885.2,270.5 889.4,271.4C893.6,272.3 899.6,272.8 904.2,272.4C908.8,272.0 913.3,270.2 916.9,269.3C920.5,268.4 922.1,263.7 926,267.1C929.9,270.6 944.3,277.0 940,290C935.7,303.0 923.3,329.2 900,345C876.7,360.8 827.5,378.3 800,385C772.5,391.7 745.8,394.2 735,385C724.2,375.8 731.7,348.8 735,330C738.3,311.2 750.6,282.6 755,272Z" fill="#c4db00"/>
<path d="M760,284C760.8,281.3 761.1,283.3 764.9,281.9C768.7,280.5 777.8,276.1 782.9,275.5C788.0,274.9 792.1,277.4 795.6,278.3C799.1,279.2 801.3,281.6 804.1,280.8C806.9,280.0 809.8,275.2 812.6,273.4C815.4,271.6 818.5,269.5 821,270.2C823.5,270.9 825.3,275.8 827.4,277.6C829.5,279.4 831.8,279.0 833.7,280.8C835.6,282.6 838.6,286.1 839,288.2C839.4,290.3 837.3,292.3 835.9,293.5C834.5,294.7 831.7,294.2 830.6,295.6C829.5,297.0 831.1,300.4 829.5,302C827.9,303.6 823.5,303.4 821,305.2C818.5,307.0 817.0,309.6 814.7,312.6C812.4,315.6 809.4,319.3 807.3,323.2C805.2,327.1 803.4,331.3 802,335.9C800.6,340.5 800.6,346.8 798.8,350.7C797.0,354.6 794.4,356.7 791.4,359.2C788.4,361.7 784.7,364.4 780.8,365.5C776.9,366.6 772.0,366.2 768.1,365.5C764.2,364.8 760.1,361.1 757.5,361.3C754.9,361.5 752.9,367.3 752.2,366.6C751.5,365.9 753.8,358.9 753.3,357C752.8,355.1 751.3,356.9 749.1,354.9C746.9,352.9 740.7,350.8 740,345C739.3,339.2 741.7,327.8 745,320C748.3,312.2 757.5,304.0 760,298C762.5,292.0 759.2,286.7 760,284Z" fill="#5e9900"/>
<path d="M756.5,313.6C757.6,311.8 759.7,309.1 761.8,307.3C763.9,305.5 766.9,303.4 769.2,303C771.5,302.6 773.7,303.8 775.5,305.2C777.3,306.6 778.9,309.2 779.8,311.5C780.7,313.8 781.2,316.4 780.8,318.9C780.4,321.4 779.2,324.1 777.6,326.3C776.0,328.5 773.6,331.6 771.3,332.1C769.0,332.6 766.2,331.0 763.9,329.5C761.6,328.0 758.9,325.1 757.5,323.2C756.1,321.3 755.6,319.5 755.4,317.9C755.2,316.3 755.4,315.4 756.5,313.6Z" fill="#006100"/>
<path d="M740,357L749.1,354.9L753.3,357L752.2,365.5L748,368L745,362Z" fill="#ffd900"/>
</g>
<path d="M945.4,13.5L958.7,12.3L964.6,26L968.5,48.1L968.5,62.1L956.9,73.1L953.1,81.8L949.2,98.5L953.6,116.3L949.7,124L953.6,136L964.6,146.1L966.8,165.5L967.1,173.9L970,179.6L967.1,186.4L948.8,203.7L947.9,212.3L949.8,224.9L933.9,236.4L935.9,237.4L935.9,247L943.1,255.7L947.9,261.5L957.7,266.4L960.6,270.2L959.2,274.5L955.8,276L942.8,274.1L929.8,267.3L923.1,269.2L927.4,289.5L921.1,297.2L918.3,307.7L899.5,310.2L894.7,331.8L880.2,336.8L869.5,331.4L862.8,324.6L856.1,325.6L849.3,335.2L828.3,341.5L817.7,354.5L803.3,364.1L793.7,364.9L785,361.9L781.6,364.6L779.2,371.8L769.6,373.3L750,380.2L744.6,367L742.7,361.2L747.5,347.7L746,342.9L749.4,338.1L748.4,334.3L750.5,320.6L759,307.8L767.6,296.8L763.1,284L765.6,278.2L777.5,273.6L787.1,268.8L789.1,257.9L781.8,256.3L759.2,267.9L740.9,264L729.9,246.2L729.9,239.5L743.3,224.1L749.6,225.5L760.7,217.8L767,206.7L764.6,201.4L760.7,200.9L757.8,198.5L758.3,194.7L762.2,191.8L765.5,187.9L775.2,188.4L788.6,173.5L787.2,167.7L783.8,161.5L785.7,157.6L801.1,154.7L832.4,151.4L839.2,140.6L849.4,132L843.1,126.4L847,111.5L859,105.2L870.6,96.6L881.1,83.1L891.3,66.7L907.8,55.3L925.2,28.9L932.9,22.1Z" fill="none" stroke="#000" stroke-width="2.2" stroke-linejoin="round"/>
<rect x="710.05" y="5.15" width="321.20" height="455.80" fill="none" stroke="#000" stroke-width="2.7"/>
<text x="0" y="46.4" font-size="31.2" text-anchor="middle" transform="translate(745.2 0) scale(1.01 1)">(c)</text>
<text class="s" x="0" y="55.3" font-size="18.75" text-anchor="middle" transform="translate(786.7 0) scale(1.11 1)">N</text>
<path d="M786.3,59.2L771.4,108.3L786.3,89.7Z" fill="#000"/>
<path d="M786.3,60.6L800.1,107.3L786.3,90.3Z" fill="#fff" stroke="#000" stroke-width="1.1"/>
<path d="M742.7,430.1V440.1H820.6V430.1M762.2,432.8V440.1M781.6,432.8V440.1M801.1,432.8V440.1" fill="none" stroke="#222" stroke-width="1.5"/>
<text class="b" x="738.6" y="422.8" font-size="15">0</text>
<text class="b" x="770.0" y="422.8" font-size="15">250</text>
<text class="b" x="808.9" y="422.8" font-size="15">500 Meters</text>
<text class="b" x="0" y="321.1" font-size="17" transform="translate(923.8 0) scale(1.0 1)">TP (g/kg)</text>
<rect x="925.7" y="332.7" width="19.8" height="9.8" fill="#006100"/>
<path d="M963.3,333.4L950.7,337.9L963.3,342.4" fill="none" stroke="#111" stroke-width="1.2"/>
<text class="b" x="965.3" y="343.3" font-size="17">0.12</text>
<rect x="925.7" y="355.5" width="19.8" height="9.8" fill="#5e9900"/>
<text class="b" x="948.7" y="366.1" font-size="17">0.12 – 0.14</text>
<rect x="925.7" y="378.3" width="19.8" height="9.8" fill="#c4db00"/>
<text class="b" x="948.7" y="388.9" font-size="17">0.14 – 0.16</text>
<rect x="925.7" y="401.1" width="19.8" height="9.8" fill="#ffd900"/>
<text class="b" x="948.7" y="411.7" font-size="17">0.16 – 0.17</text>
<rect x="925.7" y="423.9" width="19.8" height="9.8" fill="#ff8a00"/>
<text class="b" x="948.7" y="434.5" font-size="17">0.17 – 0.18</text>
<rect x="925.7" y="446.7" width="19.8" height="9.8" fill="#ff2200"/>
<path d="M950.7,447.4L963.3,451.9L950.7,456.4" fill="none" stroke="#111" stroke-width="1.2"/>
<text class="b" x="965.3" y="457.3" font-size="17">0.18</text>
</g>
<g id="pd">
<clipPath id="cd"><path d="M247.3,486.2L260.8,485L266.8,498.9L270.7,521.4L270.7,535.7L259,546.9L255.1,555.7L251.2,572.7L255.6,590.8L251.7,598.7L255.6,610.9L266.8,621.1L269,640.9L269.3,649.4L272.3,655.2L269.3,662.1L250.8,679.7L249.9,688.5L251.8,701.3L235.7,713L237.7,714L237.7,723.8L245,732.7L249.9,738.6L259.8,743.5L262.7,747.4L261.3,751.8L257.9,753.3L244.7,751.4L231.5,744.5L224.7,746.4L229.1,767.1L222.7,774.9L219.8,785.6L200.8,788.1L195.9,810.1L181.2,815.2L170.4,809.7L163.6,802.8L156.8,803.8L149.9,813.6L128.6,820L117.8,833.2L103.2,843L93.5,843.8L84.7,840.7L81.2,843.5L78.8,850.8L69.1,852.3L49.2,859.3L43.7,845.9L41.8,840L46.6,826.3L45.1,821.4L48.6,816.5L47.6,812.6L49.7,798.7L58.3,785.7L67,774.5L62.5,761.5L65,755.6L77.1,750.9L86.8,746L88.8,734.9L81.4,733.3L58.5,745.1L40,741.1L28.8,723L28.8,716.2L42.4,700.5L48.8,701.9L60,694.1L66.4,682.8L64,677.4L60,676.9L57.1,674.5L57.6,670.6L61.6,667.6L64.9,663.7L74.7,664.2L88.3,649L86.9,643.1L83.5,636.8L85.4,632.8L101,629.9L132.7,626.5L139.6,615.5L150,606.8L143.6,601.1L147.5,585.9L159.7,579.5L171.5,570.8L182.1,557L192.5,540.4L209.2,528.8L226.8,501.9L234.6,495Z"/></clipPath>
<g clip-path="url(#cd)"><path d="M247.3,486.2L260.8,485L266.8,498.9L270.7,521.4L270.7,535.7L259,546.9L255.1,555.7L251.2,572.7L255.6,590.8L251.7,598.7L255.6,610.9L266.8,621.1L269,640.9L269.3,649.4L272.3,655.2L269.3,662.1L250.8,679.7L249.9,688.5L251.8,701.3L235.7,713L237.7,714L237.7,723.8L245,732.7L249.9,738.6L259.8,743.5L262.7,747.4L261.3,751.8L257.9,753.3L244.7,751.4L231.5,744.5L224.7,746.4L229.1,767.1L222.7,774.9L219.8,785.6L200.8,788.1L195.9,810.1L181.2,815.2L170.4,809.7L163.6,802.8L156.8,803.8L149.9,813.6L128.6,820L117.8,833.2L103.2,843L93.5,843.8L84.7,840.7L81.2,843.5L78.8,850.8L69.1,852.3L49.2,859.3L43.7,845.9L41.8,840L46.6,826.3L45.1,821.4L48.6,816.5L47.6,812.6L49.7,798.7L58.3,785.7L67,774.5L62.5,761.5L65,755.6L77.1,750.9L86.8,746L88.8,734.9L81.4,733.3L58.5,745.1L40,741.1L28.8,723L28.8,716.2L42.4,700.5L48.8,701.9L60,694.1L66.4,682.8L64,677.4L60,676.9L57.1,674.5L57.6,670.6L61.6,667.6L64.9,663.7L74.7,664.2L88.3,649L86.9,643.1L83.5,636.8L85.4,632.8L101,629.9L132.7,626.5L139.6,615.5L150,606.8L143.6,601.1L147.5,585.9L159.7,579.5L171.5,570.8L182.1,557L192.5,540.4L209.2,528.8L226.8,501.9L234.6,495Z" fill="#c4db00"/>
<path d="M190.6,537.4L198.3,549L196.4,558.6L191.6,564.4L192.6,569.2L200.3,567.3L207,558.6L212.8,558.6L218.5,552.8L220.5,561.5L228.2,554.8L234.9,552.8L239.7,543.2L240.7,529.7L247.4,521.1L253.2,510.5L258,500.9L264.7,489.3L262.8,479.7L245.5,479.7L216.6,500.9Z" fill="#ffd900"/>
<path d="M246.5,511.5L250.3,503.8L254.2,502.8L257,505.7L253.2,509.5L250.9,514.3Z" fill="#c4db00"/>
<path d="M206,548L211.8,546.1L214.7,539.4L217.6,539L222,547.1L217.6,549L215.7,552.8L211.8,556.7L208.9,552.8Z" fill="#ff8a00"/>
<path d="M272.4,530.7L263.8,539.4L257,543.2L253.2,548L245.5,550L240.7,558.6L244.5,564.4L251.3,568.2L260.9,566.3L264.7,549Z" fill="#ffd900"/>
<path d="M146.4,614.4L150.2,609.6L154.1,616.4L148.3,619.3L144.4,622.1L141.5,618.3Z" fill="#ffd900"/>
<path d="M65.4,661.6L71.2,666.4L76,675.1L82.8,673.1L88.5,675.1L89.5,684.7L94.3,694.3L98.2,703.9L94.3,710.7L86.6,715.5L83.7,720.3L88.5,725.1L92.4,732.8L96.2,738.6L92.4,746.3L86.6,750.1L80.8,749.2L57.7,746.3L19.2,734.7L19.2,692.4L53.9,657.7Z" fill="#ffd900"/>
<path d="M66.4,666.4L69.3,673.1L73.1,682.8L77,692.4L78,703.9L76,713.6L75.1,723.2L67.4,722.2L63.5,723.2L57.7,727L57.7,732.8L51,732.8L48.1,725.1L38.5,720.3L31.8,723.2L23.1,723.2L23.1,692.4L57.7,673.1L63.5,665.4Z" fill="#ff8a00"/>
<path d="M63.1,727.4L66.4,727L66.8,731.5L63.5,732.1Z" fill="#ff8a00"/>
<path d="M56.8,669.3L62.6,667L65.4,670.3L64.5,676L56.8,675.5Z" fill="#ff2200"/>
<path d="M106.8,719.3L110.7,718.4L111.6,725.1L108.8,726.1Z" fill="#ffd900"/>
<path d="M103.9,730.9L109.7,729.9L112.6,734.7L111.6,742.4L115.5,744.4L113.6,747.3L107.8,746.3L104.9,738.6Z" fill="#ffd900"/>
<path d="M199,730.3L204.2,720.8L206.8,725.1L211.1,727.7L204.2,729.4Z" fill="#ffd900"/>
<path d="M115.6,821.5L119.1,814.5L122.6,807.6L134.7,798.9L148.6,791.9L157.3,783.3L166,779.8L170.3,782.4L166,789.3L171.2,792.8L178.1,788.5L186.8,778.1L188.5,769.4L199,767.6L209.4,760.7L221.5,759.8L228.5,753.8L231.9,764.2L225,781.5L197.2,798.9L195.5,811L181.6,816.2L164.2,804.1L155.6,804.1L150.3,814.5L126,821.5Z" fill="#ffd900"/>
<path d="M212.8,772.8L221.5,770.8L225,774.6L219.8,781.5L214.6,780.1Z" fill="#c4db00"/>
<path d="M179,811.9L185.1,805L190.3,804.1L195.5,808.4L183.3,814.9Z" fill="#ff8a00"/>
<path d="M47.2,821.6L53.9,825.4L57.7,830.3L52,837L48.1,842.8L50.4,850.5L55.8,847.6L65.4,847.6L68.3,850.5L63.5,856.2L46.2,862L38.5,840.8L43.3,817.7Z" fill="#ffd900"/>
<path d="M101.1,840.8L107.8,832.2L111.6,829.3L116.5,834.1L107.8,840.8Z" fill="#ffd900"/>
<path d="M147.3,585.4L170.8,574.1L171.6,581L165.6,589.7L160.3,594.1L155.1,601.9L146.5,602.7L141.2,600.1Z" fill="#5e9900"/>
<path d="M193.3,579.3L207.2,577.9L215,581L215.9,588.9L224.6,584.5L238.5,584.5L247.2,592.3L253.2,596.7L255,605.3L261,614.9L268.9,621L265.4,625.3L261,627.9L257.6,638.3L254.1,641.8L257.6,650.5L252.4,653.1L257.6,659.2L262.8,663.5L259.3,666.1L253.2,667.8L247.2,663.5L241.9,655.7L235,654.8L229.8,647.9L221.1,640.1L214.2,636.6L209,627.9L203.8,623.6L198.5,621L189.9,625.3L181.2,621.8L179.4,620.1L183.8,613.2L182,603.6L186.4,594.9L187.3,586.2Z" fill="#5e9900"/>
<path d="M214.2,616.6L221.1,615.8L228.1,621L224.6,626.2L219.4,621L215,620.1Z" fill="#c4db00"/>
<path d="M231.5,627.9L235,626.2L239.3,631.4L242.8,634.9L240.2,640.9L235.9,638.3L232.4,633.1Z" fill="#c4db00"/>
<path d="M168.2,629.7L175.1,627.9L170.8,635.7L165.6,640.1L160.3,640.9L156.9,647L152.5,650.5L153.4,645.3L157.7,640.1L163.8,636.6Z" fill="#5e9900"/>
<path d="M144.7,653.1L149.1,652.2L145.6,659.2L141.2,664.4L138.6,663.5L142.1,657.4Z" fill="#5e9900"/>
<path d="M83.7,632.7L126.1,627.9L123.2,637.5L128,644.3L131.9,651L130.9,657.7L123.2,661.6L115.5,660.6L109.7,667.4L103.9,670.3L100.1,661.6L94.3,661.6L88.5,665.4L82.8,666.4L78,661.6L89.5,647.2L81.8,634.6Z" fill="#5e9900"/>
<path d="M100.1,632.7L104.9,630.8L110.7,635.6L113.6,641.4L107.8,647.2L101.1,652.9L99.1,644.3Z" fill="#006100"/>
<path d="M141.7,675.6L152.1,674.8L162.5,680.8L174.7,682.6L180.7,693L177.3,705.1L172.9,715.6L174.7,721.6L169.4,724.2L162.5,732.9L155.6,735.5L150.3,729.4L141.7,719L131.2,713.8L120.8,709.5L110.4,706L101.7,697.3L106.9,686L119.1,677.4L131.2,670.4L133,665.2L139.1,665.2L140.8,672.2Z" fill="#5e9900"/>
<path d="M159.9,732.9L163.4,734.7L169.4,741.6L168.6,745.9L165.1,741.6Z" fill="#5e9900"/>
<path d="M64.5,769.4L73.1,763.6L80.8,755.9L86.6,759.8L94.3,767.5L98.2,768.4L103.9,757.8L113.6,752.1L119.3,746.3L122.2,736.7L130.9,732.8L138.6,728L143.4,730.9L145.3,738.6L152.1,746.3L157.8,754L163.6,759.8L163.4,759.8L157.3,764.2L152.1,771.1L145.1,778.1L141.7,786.7L131.2,791.9L119.1,797.2L110.4,802.4L108.8,804.3L110.7,815.8L107.8,825.4L100.1,830.3L90.5,833.1L80.8,832.2L74.1,835.1L68.3,838.9L61.6,840.8L58.7,837L63.5,829.3L64.5,817.7L59.7,808.1L58.7,798.5L61.6,785L63.5,777.3Z" fill="#5e9900"/>
<path d="M125.7,763.3L129.5,760.7L132.1,765L131.2,770.2L127.8,768.5Z" fill="#006100"/>
<path d="M245.8,743.3L250.2,739.9L260.6,745.1L263.2,749.4L256.2,752L248.4,748.5Z" fill="#5e9900"/>
</g>
<path d="M247.3,486.2L260.8,485L266.8,498.9L270.7,521.4L270.7,535.7L259,546.9L255.1,555.7L251.2,572.7L255.6,590.8L251.7,598.7L255.6,610.9L266.8,621.1L269,640.9L269.3,649.4L272.3,655.2L269.3,662.1L250.8,679.7L249.9,688.5L251.8,701.3L235.7,713L237.7,714L237.7,723.8L245,732.7L249.9,738.6L259.8,743.5L262.7,747.4L261.3,751.8L257.9,753.3L244.7,751.4L231.5,744.5L224.7,746.4L229.1,767.1L222.7,774.9L219.8,785.6L200.8,788.1L195.9,810.1L181.2,815.2L170.4,809.7L163.6,802.8L156.8,803.8L149.9,813.6L128.6,820L117.8,833.2L103.2,843L93.5,843.8L84.7,840.7L81.2,843.5L78.8,850.8L69.1,852.3L49.2,859.3L43.7,845.9L41.8,840L46.6,826.3L45.1,821.4L48.6,816.5L47.6,812.6L49.7,798.7L58.3,785.7L67,774.5L62.5,761.5L65,755.6L77.1,750.9L86.8,746L88.8,734.9L81.4,733.3L58.5,745.1L40,741.1L28.8,723L28.8,716.2L42.4,700.5L48.8,701.9L60,694.1L66.4,682.8L64,677.4L60,676.9L57.1,674.5L57.6,670.6L61.6,667.6L64.9,663.7L74.7,664.2L88.3,649L86.9,643.1L83.5,636.8L85.4,632.8L101,629.9L132.7,626.5L139.6,615.5L150,606.8L143.6,601.1L147.5,585.9L159.7,579.5L171.5,570.8L182.1,557L192.5,540.4L209.2,528.8L226.8,501.9L234.6,495Z" fill="none" stroke="#000" stroke-width="2.2" stroke-linejoin="round"/>
<rect x="7.85" y="478.55" width="322.40" height="471.80" fill="none" stroke="#000" stroke-width="2.7"/>
<text x="35.2" y="515.3" font-size="31" text-anchor="middle">(d)</text>
<text class="s" x="0" y="524.7" font-size="21.4" text-anchor="middle" transform="translate(86.2 0) scale(1.12 1)">N</text>
<path d="M85.6,528.6L69.5,582.2L85.6,561.2Z" fill="#000"/>
<path d="M85.6,530L100.5,581L85.6,561.8Z" fill="#fff" stroke="#000" stroke-width="1.1"/>
<path d="M37.5,920.2V931.9H116.5V920.2M57.2,923.6V931.9M77.0,923.6V931.9M96.8,923.6V931.9" fill="none" stroke="#222" stroke-width="1.5"/>
<text class="b" x="33.4" y="912.1" font-size="17">0</text>
<text class="b" x="64.2" y="912.1" font-size="17">250</text>
<text class="b" x="103.6" y="912.1" font-size="17">500 Meters</text>
<text class="b" x="0" y="796.0" font-size="18.4" transform="translate(233.1 0) scale(1.025 1)">SOC (g/kg)</text>
<rect x="235.0" y="810.5" width="19" height="8.8" fill="#006100"/>
<path d="M273.2,810.3L259.6,815.2L273.2,820.1" fill="none" stroke="#111" stroke-width="1.2"/>
<text class="b" x="275.5" y="822.3" font-size="18.4">13</text>
<rect x="235.0" y="834.7" width="19" height="8.8" fill="#5e9900"/>
<text class="b" x="257.5" y="846.5" font-size="18.4">13 – 17</text>
<rect x="235.0" y="858.9" width="19" height="8.8" fill="#c4db00"/>
<text class="b" x="257.5" y="870.7" font-size="18.4">17 – 19</text>
<rect x="235.0" y="883.1" width="19" height="8.8" fill="#ffd900"/>
<text class="b" x="257.5" y="894.9" font-size="18.4">19 – 21</text>
<rect x="235.0" y="907.3" width="19" height="8.8" fill="#ff8a00"/>
<text class="b" x="257.5" y="919.1" font-size="18.4">21 – 25</text>
<rect x="235.0" y="931.5" width="19" height="8.8" fill="#ff2200"/>
<path d="M259.6,931.3L273.2,936.2L259.6,941.1" fill="none" stroke="#111" stroke-width="1.2"/>
<text class="b" x="275.5" y="943.3" font-size="18.4">25</text>
</g>
<g id="pe">
<clipPath id="ce"><path d="M598.3,485.9L611.8,484.7L617.8,498.6L621.7,521.1L621.7,535.4L610,546.6L606.1,555.4L602.2,572.4L606.6,590.5L602.7,598.4L606.6,610.6L617.8,620.8L620,640.6L620.3,649.1L623.3,654.9L620.3,661.8L601.8,679.4L600.9,688.2L602.8,701L586.7,712.7L588.7,713.7L588.7,723.5L596,732.4L600.9,738.3L610.8,743.2L613.7,747.1L612.3,751.5L608.9,753L595.7,751.1L582.5,744.2L575.7,746.1L580.1,766.8L573.7,774.6L570.8,785.3L551.8,787.8L546.9,809.8L532.2,814.9L521.4,809.4L514.6,802.5L507.8,803.5L500.9,813.3L479.6,819.7L468.8,832.9L454.2,842.7L444.5,843.5L435.7,840.4L432.2,843.2L429.8,850.5L420.1,852L400.2,859L394.7,845.6L392.8,839.7L397.6,826L396.1,821.1L399.6,816.2L398.6,812.3L400.7,798.4L409.3,785.4L418,774.2L413.5,761.2L416,755.3L428.1,750.6L437.8,745.7L439.8,734.6L432.4,733L409.5,744.8L391,740.8L379.8,722.7L379.8,715.9L393.4,700.2L399.8,701.6L411,693.8L417.4,682.5L415,677.1L411,676.6L408.1,674.2L408.6,670.3L412.6,667.3L415.9,663.4L425.7,663.9L439.3,648.7L437.9,642.8L434.5,636.5L436.4,632.5L452,629.6L483.7,626.2L490.6,615.2L501,606.5L494.6,600.8L498.5,585.6L510.7,579.2L522.5,570.5L533.1,556.7L543.5,540.1L560.2,528.5L577.8,501.6L585.6,494.7Z"/></clipPath>
<g clip-path="url(#ce)"><path d="M598.3,485.9L611.8,484.7L617.8,498.6L621.7,521.1L621.7,535.4L610,546.6L606.1,555.4L602.2,572.4L606.6,590.5L602.7,598.4L606.6,610.6L617.8,620.8L620,640.6L620.3,649.1L623.3,654.9L620.3,661.8L601.8,679.4L600.9,688.2L602.8,701L586.7,712.7L588.7,713.7L588.7,723.5L596,732.4L600.9,738.3L610.8,743.2L613.7,747.1L612.3,751.5L608.9,753L595.7,751.1L582.5,744.2L575.7,746.1L580.1,766.8L573.7,774.6L570.8,785.3L551.8,787.8L546.9,809.8L532.2,814.9L521.4,809.4L514.6,802.5L507.8,803.5L500.9,813.3L479.6,819.7L468.8,832.9L454.2,842.7L444.5,843.5L435.7,840.4L432.2,843.2L429.8,850.5L420.1,852L400.2,859L394.7,845.6L392.8,839.7L397.6,826L396.1,821.1L399.6,816.2L398.6,812.3L400.7,798.4L409.3,785.4L418,774.2L413.5,761.2L416,755.3L428.1,750.6L437.8,745.7L439.8,734.6L432.4,733L409.5,744.8L391,740.8L379.8,722.7L379.8,715.9L393.4,700.2L399.8,701.6L411,693.8L417.4,682.5L415,677.1L411,676.6L408.1,674.2L408.6,670.3L412.6,667.3L415.9,663.4L425.7,663.9L439.3,648.7L437.9,642.8L434.5,636.5L436.4,632.5L452,629.6L483.7,626.2L490.6,615.2L501,606.5L494.6,600.8L498.5,585.6L510.7,579.2L522.5,570.5L533.1,556.7L543.5,540.1L560.2,528.5L577.8,501.6L585.6,494.7Z" fill="#ffd900"/>
<path d="M478,612C480.3,620.6 482.0,622.6 483.9,626.8C485.8,631.0 487.6,633.1 489.2,637.3C490.8,641.5 492.0,647.2 493.4,652.2C494.8,657.2 495.5,662.6 497.6,667C499.7,671.4 502.6,675.1 506.1,678.6C509.6,682.1 514.2,685.8 518.8,688.2C523.4,690.6 529.0,692.3 533.6,692.8C538.2,693.3 542.8,692.8 546.3,691.3C549.8,689.8 552.1,686.9 554.8,683.9C557.4,680.9 560.3,676.8 562.2,673.3C564.1,669.8 565.8,667.4 566.4,662.8C567.0,658.2 567.0,651.4 566,645.8C565.0,640.1 562.2,633.0 560.1,628.9C558.0,624.8 556.5,623.2 553.6,621C550.8,618.8 545.8,617.9 543,615.8C540.2,613.7 537.9,611.2 536.7,608.4C535.5,605.6 535.6,601.6 535.7,598.9C535.8,596.2 536.5,593.6 537.5,592C538.5,590.4 539.5,590.6 542,589.3C544.5,588.0 549.1,585.0 552.6,584C556.1,583.0 559.3,582.8 563.2,583C567.1,583.2 571.7,584.4 575.9,585.1C580.1,585.8 584.0,586.3 588.6,587.2C593.2,588.1 598.5,589.6 603.4,590.4C608.3,591.2 611.1,602.1 618,592C624.9,581.9 643.8,550.3 645,530C646.2,509.7 635.8,480.0 625,470C614.2,460.0 605.8,452.5 580,470C554.2,487.5 487.0,551.3 470,575C453.0,598.7 475.7,603.4 478,612Z" fill="#ff8a00"/>
<path d="M565,510C561.9,517.7 569.4,514.5 571.2,516.3C573.0,518.0 573.7,519.5 575.9,520.5C578.1,521.5 582.4,521.9 584.3,522.6C586.2,523.3 586.8,523.4 587.5,524.8C588.2,526.2 587.0,529.4 588.6,531.1C590.2,532.9 594.2,534.1 597,535.3C599.8,536.5 602.9,538.0 605.5,538.5C608.1,539.0 610.4,539.4 612.9,538.5C615.4,537.6 616.6,535.5 620.3,533.2C624.0,531.0 633.4,534.7 635,525C636.6,515.3 637.5,484.2 630,475C622.5,465.8 600.8,464.2 590,470C579.2,475.8 568.1,502.3 565,510Z" fill="#ff2200"/>
<path d="M562.1,535.3L565.3,533.9L568.5,538.5L567.4,542.8L564.2,540.6Z" fill="#ff2200"/>
<path d="M425,658C430.0,657.8 427.7,662.3 429.9,663.8C432.1,665.3 436.2,664.7 438.3,667C440.4,669.3 441.2,674.8 442.6,677.6C444.0,680.4 445.6,680.7 446.8,683.9C448.0,687.1 449.5,692.0 450,696.6C450.5,701.2 450.9,707.2 450,711.4C449.1,715.6 447.0,718.8 444.7,722C442.4,725.2 438.6,728.2 436.2,730.5C433.8,732.8 436.0,732.4 430,736C424.0,739.6 410.3,753.8 400,752C389.7,750.2 372.2,733.7 368,725C363.8,716.3 369.7,710.0 375,700C380.3,690.0 391.7,672.0 400,665C408.3,658.0 420.0,658.2 425,658Z" fill="#ff8a00"/>
<path d="M417,678C419.6,678.6 419.0,681.9 420.3,683.9C421.6,685.9 423.3,687.5 424.6,690.3C425.9,693.1 427.9,697.5 428.2,700.9C428.4,704.2 427.2,707.6 426.1,710.4C425.0,713.2 423.6,715.7 421.4,717.8C419.2,719.9 416.1,721.5 412.9,723.1C409.7,724.7 405.8,726.8 402.3,727.3C398.8,727.8 395.0,727.2 391.8,726.3C388.6,725.4 386.9,723.9 383.3,722C379.7,720.1 369.7,720.3 370,715C370.3,709.7 379.2,695.8 385,690C390.8,684.2 399.7,682.0 405,680C410.3,678.0 414.4,677.4 417,678Z" fill="#ff2200"/>
<path d="M458.5,633.1L464.8,636.3L462.7,646.9L455.7,644.1Z" fill="#c4db00"/>
<path d="M406,763C409.4,757.9 412.8,760.7 415.6,759.3C418.5,757.9 420.3,756.2 423.1,754.7C425.9,753.2 429.2,751.5 432.3,750C435.4,748.5 438.9,747.3 441.6,745.4C444.3,743.5 446.4,741.2 448.5,738.5C450.6,735.8 452.4,732.0 454.3,729.3C456.2,726.6 457.8,724.3 460.1,722.3C462.4,720.3 464.6,718.4 468.1,717.1C471.6,715.9 476.6,714.9 480.9,714.8C485.1,714.7 489.4,715.4 493.6,716.5C497.8,717.6 502.4,719.7 506.3,721.2C510.2,722.7 513.0,723.4 517,725.7C521.0,728.0 525.6,731.9 530.3,735.2C535.0,738.6 541.0,742.8 545.2,745.8C549.4,748.8 553.0,751.6 555.7,753.2C558.4,754.8 560.4,756.0 561.5,755.5C562.6,755.0 561.3,751.6 562.1,750C562.9,748.4 564.2,746.7 566.3,745.8C568.4,744.9 571.5,745.1 574.8,744.8C578.1,744.5 583.5,740.6 586,744C588.5,747.4 592.0,758.2 590,765C588.0,771.8 577.8,781.9 574,785C570.2,788.1 569.7,783.9 567.4,783.9C565.1,783.9 563.0,784.3 560,785C557.0,785.7 552.6,787.5 549.4,788.2C546.2,788.9 543.7,789.9 540.9,789.2C538.1,788.5 535.9,785.8 532.4,783.9C528.9,782.0 523.8,778.9 520,777.8C516.2,776.7 513.1,777.0 509.7,777.2C506.2,777.4 502.9,777.9 499.3,778.9C495.7,779.9 491.3,781.8 487.8,783.5C484.3,785.2 481.2,787.2 478.5,789.3C475.8,791.4 473.5,793.7 471.6,796.2C469.7,798.7 468.2,801.2 467,804.3C465.8,807.4 464.9,811.8 464.1,814.7C463.3,817.7 462.4,819.0 462,822C461.6,825.0 461.9,829.9 461.5,832.6C461.1,835.4 461.3,835.6 459.4,838.5C457.5,841.4 455.6,848.1 450,850C444.4,851.9 430.5,851.5 425.5,850C420.5,848.5 422.5,843.3 420.2,841.1C417.9,838.9 413.6,838.7 411.8,836.9C410.0,835.1 411.0,832.5 409.6,830.5C408.2,828.5 404.9,827.0 403.3,825.2C401.7,823.4 402.7,821.6 400.1,819.9C397.6,818.2 388.9,820.0 388,815C387.1,810.0 392.0,798.7 395,790C398.0,781.3 402.6,768.1 406,763Z" fill="#c4db00"/>
<path d="M563.8,759.2L575.9,759.2L580.1,762.3L569.9,769.5L566.3,767.4Z" fill="#ffd900"/>
<path d="M472.8,730.4C475.3,729.5 478.0,730.4 480.9,731C483.8,731.6 487.0,732.8 490.1,733.9C493.2,735.0 496.8,736.5 499.3,737.9C501.8,739.2 503.9,740.4 505.1,742C506.3,743.6 505.7,745.8 506.3,747.7C506.9,749.6 509.0,751.0 508.6,753.5C508.2,756.0 506.1,760.0 504,762.7C501.9,765.4 499.0,767.6 495.9,769.7C492.8,771.8 489.0,773.4 485.5,775.5C482.0,777.6 478.2,780.1 475.1,782.4C472.0,784.7 469.3,786.8 467,789.3C464.7,791.8 462.8,794.5 461.2,797.4C459.6,800.3 458.7,803.7 457.7,806.6C456.7,809.5 456.5,812.0 455.4,814.7C454.3,817.4 452.3,820.7 451,823C449.7,825.3 449.8,826.4 447.8,828.4C445.9,830.4 442.5,833.7 439.3,834.7C436.1,835.8 432.2,835.6 428.7,834.7C425.2,833.8 421.3,831.5 418.1,829.4C414.9,827.3 412.2,824.3 409.6,822C407.0,819.7 403.8,818.2 402.2,815.7C400.6,813.2 402.1,809.8 400.1,807.2C398.1,804.6 389.2,805.6 390,800C390.8,794.4 400.2,778.9 405,773.3C409.8,767.7 415.1,768.0 418.5,766.2C421.9,764.4 422.9,764.1 425.4,762.7C427.9,761.4 430.4,759.6 433.5,758.1C436.6,756.6 440.8,755.4 443.9,753.5C447.0,751.6 449.5,748.5 452,746.6C454.5,744.7 456.6,743.7 458.9,742C461.2,740.3 463.5,738.1 465.8,736.2C468.1,734.3 470.3,731.3 472.8,730.4Z" fill="#5e9900"/>
<path d="M411.5,792.8C411.8,790.7 413.3,788.5 415,787C416.7,785.5 419.6,784.2 421.9,783.5C424.2,782.8 426.8,782.6 428.9,783C431.0,783.4 433.0,784.6 434.6,785.9C436.2,787.2 437.8,789.1 438.7,791C439.6,792.9 439.9,795.2 439.8,797.4C439.7,799.6 438.8,802.2 438.1,804.3C437.4,806.4 437.0,808.5 435.8,810.1C434.6,811.7 433.3,813.2 431.2,813.6C429.1,814.0 425.4,813.6 423.1,812.4C420.8,811.2 418.9,808.7 417.3,806.6C415.7,804.5 414.3,802.0 413.3,799.7C412.3,797.4 411.2,794.9 411.5,792.8Z" fill="#006100"/>
<path d="M478.5,804.3C479.2,802.2 480.3,800.0 482,798.6C483.7,797.2 486.4,796.4 488.9,796.2C491.4,796.0 494.9,796.6 497,797.4C499.1,798.2 500.5,799.5 501.6,800.9C502.7,802.2 503.3,803.5 503.4,805.5C503.5,807.5 504.2,811.1 502,813C499.8,814.9 493.7,815.6 490.1,816.6C486.5,817.6 482.6,819.6 480.6,818.7C478.6,817.8 478.4,813.4 478,811C477.6,808.6 477.8,806.4 478.5,804.3Z" fill="#ff8a00"/>
</g>
<path d="M598.3,485.9L611.8,484.7L617.8,498.6L621.7,521.1L621.7,535.4L610,546.6L606.1,555.4L602.2,572.4L606.6,590.5L602.7,598.4L606.6,610.6L617.8,620.8L620,640.6L620.3,649.1L623.3,654.9L620.3,661.8L601.8,679.4L600.9,688.2L602.8,701L586.7,712.7L588.7,713.7L588.7,723.5L596,732.4L600.9,738.3L610.8,743.2L613.7,747.1L612.3,751.5L608.9,753L595.7,751.1L582.5,744.2L575.7,746.1L580.1,766.8L573.7,774.6L570.8,785.3L551.8,787.8L546.9,809.8L532.2,814.9L521.4,809.4L514.6,802.5L507.8,803.5L500.9,813.3L479.6,819.7L468.8,832.9L454.2,842.7L444.5,843.5L435.7,840.4L432.2,843.2L429.8,850.5L420.1,852L400.2,859L394.7,845.6L392.8,839.7L397.6,826L396.1,821.1L399.6,816.2L398.6,812.3L400.7,798.4L409.3,785.4L418,774.2L413.5,761.2L416,755.3L428.1,750.6L437.8,745.7L439.8,734.6L432.4,733L409.5,744.8L391,740.8L379.8,722.7L379.8,715.9L393.4,700.2L399.8,701.6L411,693.8L417.4,682.5L415,677.1L411,676.6L408.1,674.2L408.6,670.3L412.6,667.3L415.9,663.4L425.7,663.9L439.3,648.7L437.9,642.8L434.5,636.5L436.4,632.5L452,629.6L483.7,626.2L490.6,615.2L501,606.5L494.6,600.8L498.5,585.6L510.7,579.2L522.5,570.5L533.1,556.7L543.5,540.1L560.2,528.5L577.8,501.6L585.6,494.7Z" fill="none" stroke="#000" stroke-width="2.2" stroke-linejoin="round"/>
<rect x="359.35" y="478.55" width="321.10" height="469.80" fill="none" stroke="#000" stroke-width="2.7"/>
<text x="386.5" y="515.3" font-size="31" text-anchor="middle">(e)</text>
<text class="s" x="0" y="524.7" font-size="21.4" text-anchor="middle" transform="translate(437.4 0) scale(1.12 1)">N</text>
<path d="M436.79999999999995,528.6L420.7,582.2L436.79999999999995,561.2Z" fill="#000"/>
<path d="M436.79999999999995,530L451.7,581L436.79999999999995,561.8Z" fill="#fff" stroke="#000" stroke-width="1.1"/>
<path d="M388.7,918.7V930.4H467.7V918.7M408.4,922.1V930.4M428.2,922.1V930.4M447.9,922.1V930.4" fill="none" stroke="#222" stroke-width="1.5"/>
<text class="b" x="384.6" y="910.6" font-size="17">0</text>
<text class="b" x="415.4" y="910.6" font-size="17">250</text>
<text class="b" x="454.8" y="910.6" font-size="17">500 Meters</text>
<text class="b" x="0" y="798.5" font-size="18.3" transform="translate(583.1 0) scale(1.025 1)">TN (g/kg)</text>
<rect x="584.6" y="811.3" width="19.3" height="8.8" fill="#006100"/>
<path d="M623.1,811.2L609.6,816.0L623.1,820.8" fill="none" stroke="#111" stroke-width="1.2"/>
<text class="b" x="625.4" y="823.0" font-size="18.3">1.0</text>
<rect x="584.6" y="835.3" width="19.3" height="8.8" fill="#5e9900"/>
<text class="b" x="607.5" y="847.0" font-size="18.3">1.0 – 1.2</text>
<rect x="584.6" y="859.3" width="19.3" height="8.8" fill="#c4db00"/>
<text class="b" x="607.5" y="871.0" font-size="18.3">1.2 – 1.3</text>
<rect x="584.6" y="883.3" width="19.3" height="8.8" fill="#ffd900"/>
<text class="b" x="607.5" y="895.0" font-size="18.3">1.3 – 1.5</text>
<rect x="584.6" y="907.3" width="19.3" height="8.8" fill="#ff8a00"/>
<text class="b" x="607.5" y="919.0" font-size="18.3">1.5 – 1.8</text>
<rect x="584.6" y="931.3" width="19.3" height="8.8" fill="#ff2200"/>
<path d="M609.6,931.2L623.1,936.0L609.6,940.8" fill="none" stroke="#111" stroke-width="1.2"/>
<text class="b" x="625.4" y="943.0" font-size="18.3">1.8</text>
</g>
<g id="pf">
<clipPath id="cf"><path d="M950.7,486.2L964.2,485L970.2,498.9L974.1,521.4L974.1,535.7L962.4,546.9L958.5,555.7L954.6,572.7L959,590.8L955.1,598.7L959,610.9L970.2,621.1L972.4,640.9L972.7,649.4L975.7,655.2L972.7,662.1L954.2,679.7L953.3,688.5L955.2,701.3L939.1,713L941.1,714L941.1,723.8L948.4,732.7L953.3,738.6L963.2,743.5L966.1,747.4L964.7,751.8L961.3,753.3L948.1,751.4L934.9,744.5L928.1,746.4L932.5,767.1L926.1,774.9L923.2,785.6L904.2,788.1L899.3,810.1L884.6,815.2L873.8,809.7L867,802.8L860.2,803.8L853.3,813.6L832,820L821.2,833.2L806.6,843L796.9,843.8L788.1,840.7L784.6,843.5L782.2,850.8L772.5,852.3L752.6,859.3L747.1,845.9L745.2,840L750,826.3L748.5,821.4L752,816.5L751,812.6L753.1,798.7L761.7,785.7L770.4,774.5L765.9,761.5L768.4,755.6L780.5,750.9L790.2,746L792.2,734.9L784.8,733.3L761.9,745.1L743.4,741.1L732.2,723L732.2,716.2L745.8,700.5L752.2,701.9L763.4,694.1L769.8,682.8L767.4,677.4L763.4,676.9L760.5,674.5L761,670.6L765,667.6L768.3,663.7L778.1,664.2L791.7,649L790.3,643.1L786.9,636.8L788.8,632.8L804.4,629.9L836.1,626.5L843,615.5L853.4,606.8L847,601.1L850.9,585.9L863.1,579.5L874.9,570.8L885.5,557L895.9,540.4L912.6,528.8L930.2,501.9L938,495Z"/></clipPath>
<g clip-path="url(#cf)"><path d="M950.7,486.2L964.2,485L970.2,498.9L974.1,521.4L974.1,535.7L962.4,546.9L958.5,555.7L954.6,572.7L959,590.8L955.1,598.7L959,610.9L970.2,621.1L972.4,640.9L972.7,649.4L975.7,655.2L972.7,662.1L954.2,679.7L953.3,688.5L955.2,701.3L939.1,713L941.1,714L941.1,723.8L948.4,732.7L953.3,738.6L963.2,743.5L966.1,747.4L964.7,751.8L961.3,753.3L948.1,751.4L934.9,744.5L928.1,746.4L932.5,767.1L926.1,774.9L923.2,785.6L904.2,788.1L899.3,810.1L884.6,815.2L873.8,809.7L867,802.8L860.2,803.8L853.3,813.6L832,820L821.2,833.2L806.6,843L796.9,843.8L788.1,840.7L784.6,843.5L782.2,850.8L772.5,852.3L752.6,859.3L747.1,845.9L745.2,840L750,826.3L748.5,821.4L752,816.5L751,812.6L753.1,798.7L761.7,785.7L770.4,774.5L765.9,761.5L768.4,755.6L780.5,750.9L790.2,746L792.2,734.9L784.8,733.3L761.9,745.1L743.4,741.1L732.2,723L732.2,716.2L745.8,700.5L752.2,701.9L763.4,694.1L769.8,682.8L767.4,677.4L763.4,676.9L760.5,674.5L761,670.6L765,667.6L768.3,663.7L778.1,664.2L791.7,649L790.3,643.1L786.9,636.8L788.8,632.8L804.4,629.9L836.1,626.5L843,615.5L853.4,606.8L847,601.1L850.9,585.9L863.1,579.5L874.9,570.8L885.5,557L895.9,540.4L912.6,528.8L930.2,501.9L938,495Z" fill="#ffd900"/>
<path d="M838,600C832.6,611.7 844.9,607.9 847.5,610.3C850.1,612.7 850.6,613.5 853.8,614.5C857.0,615.5 861.6,616.1 866.5,616.6C871.4,617.1 878.7,617.5 883.4,617.7C888.1,617.9 890.6,617.0 894.5,617.8C898.4,618.5 903.4,620.0 906.5,622.2C909.6,624.4 911.7,627.3 913.4,630.8C915.1,634.2 915.8,638.9 916.9,642.9C918.0,646.9 918.9,651.3 920.3,655C921.7,658.7 923.2,662.1 925.5,665.3C927.8,668.4 931.0,671.3 934.1,673.9C937.2,676.5 941.8,678.8 944.4,680.8C947.0,682.8 949.0,684.0 949.6,686C950.2,688.0 947.8,690.5 947.9,692.9C948.0,695.3 948.5,699.1 950.5,700.6C952.5,702.1 952.6,710.4 960,702C967.4,693.6 990.8,678.7 995,650C999.2,621.3 992.5,559.2 985,530C977.5,500.8 967.5,473.3 950,475C932.5,476.7 898.7,519.2 880,540C861.3,560.8 843.4,588.3 838,600Z" fill="#c4db00"/>
<path d="M890,535C883.5,545.1 894.0,538.4 896.1,540.5C898.2,542.6 899.6,545.4 902.4,547.9C905.2,550.4 909.1,553.2 913,555.3C916.9,557.4 921.7,559.2 925.7,560.6C929.8,562.0 933.8,563.8 937.3,563.8C940.8,563.8 943.8,561.1 946.8,560.6C949.8,560.1 952.8,561.5 955.3,560.6C957.8,559.7 957.0,559.3 962,555C967.0,550.7 983.7,547.5 985,535C986.3,522.5 978.3,489.2 970,480C961.7,470.8 948.3,470.8 935,480C921.7,489.2 896.5,524.9 890,535Z" fill="#ffd900"/>
<path d="M896,532C889.7,541.9 900.3,535.6 902.4,537.4C904.5,539.2 906.0,540.9 908.8,542.6C911.6,544.4 915.4,546.3 919.3,547.9C923.2,549.5 927.8,551.3 932,552.2C936.2,553.1 940.8,553.2 944.7,553.2C948.6,553.2 952.5,553.6 955.3,552.2C958.1,550.8 957.8,547.7 961.6,544.8C965.4,541.9 976.3,546.1 978,535C979.7,523.9 978.3,487.5 972,478C965.7,468.5 952.7,469.0 940,478C927.3,487.0 902.3,522.1 896,532Z" fill="#ff8a00"/>
<path d="M919.3,522.6L929.9,504.6L935.2,502.5L941.5,508.8L943.7,515.2L940.5,524.7L934.1,530L928.9,533.1L924.6,528.9Z" fill="#ff2200"/>
<path d="M884,548C892.5,543.4 888.4,550.9 890.8,552.1C893.2,553.3 895.6,553.7 898.2,555.3C900.9,556.9 903.9,559.8 906.7,561.7C909.5,563.7 911.9,565.1 915.1,567C918.3,568.9 922.5,571.7 925.7,573.3C928.9,574.9 931.3,575.5 934.1,576.5C936.9,577.5 941.4,577.7 942.6,579.6C943.8,581.5 940.8,585.8 941.5,588.1C942.2,590.4 944.8,592.0 946.8,593.4C948.8,594.8 950.7,596.1 953.2,596.5C955.7,596.9 956.7,592.1 962,596C967.3,599.9 982.3,608.5 985,620C987.7,631.5 981.6,657.2 978,665C974.4,672.8 967.3,667.2 963.4,667C959.5,666.8 958.0,664.9 954.8,663.6C951.6,662.3 947.6,661.3 944.4,659.3C941.2,657.3 938.1,654.5 935.8,651.5C933.5,648.5 931.8,644.9 930.6,641.2C929.5,637.5 929.8,632.6 928.9,629.1C928.0,625.6 927.5,622.9 925.5,620.5C923.5,618.1 920.6,616.2 916.9,614.5C913.2,612.8 908.3,611.4 903.1,610.2C897.9,609.1 891.2,608.3 885.8,607.6C880.4,606.9 874.6,607.2 870.7,606.1C866.8,605.0 864.4,601.5 862.3,600.8C860.2,600.1 859.8,602.0 858,601.8C856.2,601.6 855.0,600.3 851.7,599.7C848.4,599.1 840.0,601.3 838,598C836.0,594.7 832.3,588.3 840,580C847.7,571.7 875.5,552.6 884,548Z" fill="#5e9900"/>
<path d="M877.1,576.5C877.6,574.5 880.9,573.1 883.4,572.7C885.9,572.3 889.1,573.3 891.9,574.3C894.7,575.3 898.3,576.8 900.3,578.6C902.3,580.4 904.1,583.0 904.1,584.9C904.1,586.8 902.3,589.0 900.3,590.2C898.3,591.4 894.7,592.3 891.9,592.3C889.1,592.3 885.3,591.4 883.4,590.2C881.5,589.0 881.2,587.2 880.2,584.9C879.2,582.6 876.6,578.5 877.1,576.5Z" fill="#006100"/>
<path d="M858.7,634.2C859.2,630.7 861.4,628.8 864,626.8C866.6,624.8 870.4,623.2 874.6,622.5C878.8,621.8 885.2,621.6 889.4,622.5C893.6,623.4 896.8,625.5 899.6,628C902.5,630.5 904.9,634.1 906.5,637.7C908.1,641.3 908.4,645.5 909.1,649.8C909.8,654.1 909.5,659.6 910.5,663.6C911.5,667.6 912.6,670.8 915.1,673.9C917.6,677.0 922.0,679.9 925.5,682.5C929.0,685.1 932.6,687.4 935.8,689.4C938.9,691.4 942.0,692.3 944.4,694.6C946.8,696.9 950.2,700.6 950,703.2C949.8,705.8 944.5,706.7 943,710.1C941.5,713.5 942.2,720.5 941,723.9C939.8,727.3 937.8,728.9 935.8,730.8C933.8,732.7 931.2,734.0 928.9,735.1C926.6,736.2 925.0,737.2 922,737.7C919.0,738.2 914.6,738.4 910.6,737.9C906.6,737.4 901.8,736.6 897.9,734.7C894.0,732.8 890.5,729.8 887.3,726.3C884.1,722.8 881.1,717.8 878.8,713.6C876.5,709.4 874.5,705.1 873.5,700.9C872.5,696.7 873.0,692.8 872.5,688.2C872.0,683.6 871.4,677.9 870.3,673.3C869.2,668.7 867.7,664.8 866.1,660.6C864.5,656.4 862.0,652.3 860.8,647.9C859.6,643.5 858.2,637.7 858.7,634.2Z" fill="#ff8a00"/>
<path d="M876.4,642.9C876.4,641.0 877.7,639.6 879,638.6C880.3,637.6 882.4,636.8 884.1,636.9C885.8,637.0 888.0,638.2 889.3,639.5C890.6,640.8 891.9,642.7 891.9,644.6C891.9,646.5 890.6,649.3 889.3,650.7C888.0,652.1 885.8,653.0 884.1,652.9C882.4,652.8 880.3,651.8 879,650.1C877.7,648.4 876.4,644.8 876.4,642.9Z" fill="#ff2200"/>
<path d="M838.6,626.8C840.2,630.6 843.0,630.3 844.9,633.1C846.8,635.9 848.4,639.5 850.2,643.7C852.0,647.9 854.1,653.6 855.5,658.5C856.9,663.4 858.4,669.1 858.7,673.3C859.1,677.5 858.8,680.7 857.6,683.9C856.4,687.1 853.8,690.6 851.3,692.4C848.8,694.2 845.4,694.7 842.8,694.5C840.1,694.3 837.5,692.7 835.4,691.3C833.3,689.9 832.8,687.6 830.1,686C827.5,684.4 822.9,683.5 819.5,681.8C816.1,680.0 812.3,678.0 810,675.5C807.7,673.0 806.5,669.8 805.8,667C805.1,664.2 806.7,660.5 805.8,658.5C804.9,656.5 802.5,655.3 800.5,655.3C798.5,655.3 795.9,657.4 794.1,658.5C792.3,659.6 791.7,660.6 789.9,661.7C788.1,662.8 785.8,663.9 783.5,664.9C781.2,665.9 778.7,667.6 776.1,668C773.5,668.4 770.7,671.7 768,667C765.3,662.3 756.3,648.7 760,640C763.7,631.3 777.5,620.0 790,615C802.5,610.0 826.9,608.0 835,610C843.1,612.0 837.0,622.9 838.6,626.8Z" fill="#c4db00"/>
<path d="M762,665L768.7,673.3L770.8,679.7L780.3,680.7L777.2,688.2L771.9,694.5L767.6,705.1L766.6,715.7L762.3,723.1L757,725.2L751.8,731.6L744.3,733.7L736,728L722,715L740,690L760,685L770,672L755,668Z" fill="#ff8a00"/>
<path d="M756,663L770.5,667.5L771.5,680L766,690L754,680Z" fill="#ff8a00"/>
<path d="M756,748C760.0,736.9 759.8,745.4 762.3,743.2C764.8,741.0 768.5,737.5 770.8,734.7C773.1,731.9 774.3,729.1 776.1,726.3C777.9,723.5 779.1,719.8 781.4,717.8C783.7,715.8 786.0,714.8 789.9,714.6C793.8,714.4 799.8,715.8 804.7,716.7C809.6,717.6 814.6,719.0 819.5,719.9C824.4,720.8 829.7,721.6 834.3,722C838.9,722.4 843.1,720.9 847,722C850.9,723.1 854.1,725.9 857.6,728.4C861.1,730.9 864.7,734.4 868.2,736.9C871.7,739.4 874.9,741.6 878.8,743.2C882.7,744.8 886.9,745.7 891.5,746.4C896.1,747.1 901.7,747.4 906.3,747.4C910.9,747.4 915.0,746.9 919,746.4C923.0,745.9 925.7,740.4 930,744.3C934.3,748.2 949.2,756.5 945,770C940.8,783.5 928.3,809.2 905,825C881.7,840.8 832.8,858.3 805,865C777.2,871.7 749.2,874.2 738,865C726.8,855.8 735.0,829.5 738,810C741.0,790.5 752.0,759.1 756,748Z" fill="#c4db00"/>
<path d="M762,760C763.0,757.1 765.7,759.1 768.1,757.9C770.5,756.7 773.4,754.2 776.6,752.6C779.8,751.0 784.0,748.8 787.2,748.4C790.4,748.0 793.0,749.3 795.6,750.5C798.2,751.7 800.7,755.8 803,755.8C805.3,755.8 807.4,751.0 809.4,750.5C811.4,750.0 812.9,752.8 814.7,752.6C816.5,752.4 818.6,749.3 820,749.5C821.4,749.7 823.0,752.0 823.2,753.7C823.4,755.5 820.8,757.9 821,760C821.2,762.1 824.2,763.6 824.2,766.4C824.2,769.2 821.9,773.1 821,777C820.1,780.9 820.1,785.5 818.9,789.7C817.7,793.9 815.5,797.8 813.6,802.4C811.7,807.0 809.2,812.6 807.3,817.2C805.4,821.8 804.6,826.5 802,829.9C799.4,833.2 794.9,835.2 791.4,837.3C787.9,839.4 784.7,841.4 780.8,842.6C776.9,843.8 772.0,844.7 768.1,844.7C764.2,844.7 760.1,842.4 757.5,842.6C754.9,842.8 752.9,846.7 752.2,845.8C751.5,844.9 754.0,839.1 753.3,837.3C752.6,835.5 750.2,837.2 748,835.2C745.8,833.2 740.5,831.2 740,825C739.5,818.8 741.3,806.3 745,798C748.7,789.7 759.2,781.3 762,775C764.8,768.7 761.0,762.9 762,760Z" fill="#5e9900"/>
<path d="M755.4,798.2C756.1,795.7 759.3,791.6 761.8,788.6C764.3,785.6 767.4,781.8 770.2,780.2C773.0,778.6 776.2,778.4 778.7,779.1C781.2,779.8 783.9,781.9 785.5,784.4C787.1,786.9 788.3,790.7 788.2,793.9C788.1,797.1 786.6,801.0 785,803.5C783.4,806.0 781.0,807.1 778.7,808.7C776.4,810.3 773.8,813.2 771.3,813C768.8,812.8 766.2,809.3 763.9,807.7C761.6,806.1 758.9,805.1 757.5,803.5C756.1,801.9 754.7,800.7 755.4,798.2Z" fill="#006100"/>
<path d="M886.7,785.5C887.2,784.1 890.9,781.7 893,781.2C895.1,780.7 897.8,781.4 899.4,782.3C901.0,783.2 903.0,785.1 902.6,786.5C902.2,787.9 898.9,789.5 897.3,790.7C895.7,791.9 894.2,794.1 893,793.9C891.8,793.7 890.9,791.1 889.9,789.7C888.9,788.3 886.2,786.9 886.7,785.5Z" fill="#5e9900"/>
<path d="M742,836L748,836.3L751.8,837.3L752.8,842L750,846.5L746,843Z" fill="#ffd900"/>
</g>
<path d="M950.7,486.2L964.2,485L970.2,498.9L974.1,521.4L974.1,535.7L962.4,546.9L958.5,555.7L954.6,572.7L959,590.8L955.1,598.7L959,610.9L970.2,621.1L972.4,640.9L972.7,649.4L975.7,655.2L972.7,662.1L954.2,679.7L953.3,688.5L955.2,701.3L939.1,713L941.1,714L941.1,723.8L948.4,732.7L953.3,738.6L963.2,743.5L966.1,747.4L964.7,751.8L961.3,753.3L948.1,751.4L934.9,744.5L928.1,746.4L932.5,767.1L926.1,774.9L923.2,785.6L904.2,788.1L899.3,810.1L884.6,815.2L873.8,809.7L867,802.8L860.2,803.8L853.3,813.6L832,820L821.2,833.2L806.6,843L796.9,843.8L788.1,840.7L784.6,843.5L782.2,850.8L772.5,852.3L752.6,859.3L747.1,845.9L745.2,840L750,826.3L748.5,821.4L752,816.5L751,812.6L753.1,798.7L761.7,785.7L770.4,774.5L765.9,761.5L768.4,755.6L780.5,750.9L790.2,746L792.2,734.9L784.8,733.3L761.9,745.1L743.4,741.1L732.2,723L732.2,716.2L745.8,700.5L752.2,701.9L763.4,694.1L769.8,682.8L767.4,677.4L763.4,676.9L760.5,674.5L761,670.6L765,667.6L768.3,663.7L778.1,664.2L791.7,649L790.3,643.1L786.9,636.8L788.8,632.8L804.4,629.9L836.1,626.5L843,615.5L853.4,606.8L847,601.1L850.9,585.9L863.1,579.5L874.9,570.8L885.5,557L895.9,540.4L912.6,528.8L930.2,501.9L938,495Z" fill="none" stroke="#000" stroke-width="2.2" stroke-linejoin="round"/>
<rect x="711.55" y="478.55" width="322.30" height="471.80" fill="none" stroke="#000" stroke-width="2.7"/>
<text x="740.7" y="515.3" font-size="31" text-anchor="middle">(f)</text>
<text class="s" x="0" y="524.7" font-size="21.4" text-anchor="middle" transform="translate(789.6 0) scale(1.12 1)">N</text>
<path d="M789.0,528.6L772.9,582.2L789.0,561.2Z" fill="#000"/>
<path d="M789.0,530L803.9,581L789.0,561.8Z" fill="#fff" stroke="#000" stroke-width="1.1"/>
<path d="M740.9,919.9V931.6H819.9V919.9M760.6,923.3V931.6M780.4,923.3V931.6M800.1,923.3V931.6" fill="none" stroke="#222" stroke-width="1.5"/>
<text class="b" x="736.8" y="911.8" font-size="17">0</text>
<text class="b" x="767.6" y="911.8" font-size="17">250</text>
<text class="b" x="807.0" y="911.8" font-size="17">500 Meters</text>
<text class="b" x="0" y="797.3" font-size="18.6" transform="translate(924.7 0) scale(1.025 1)">TP (g/kg)</text>
<rect x="925.0" y="812.2" width="18.9" height="8.8" fill="#006100"/>
<path d="M963.2,812.0L949.4,816.9L963.2,821.8" fill="none" stroke="#111" stroke-width="1.2"/>
<text class="b" x="970.5" y="824.0" font-size="18.6">0.12</text>
<rect x="925.0" y="836.4" width="18.9" height="8.8" fill="#5e9900"/>
<text class="b" x="947.3" y="848.2" font-size="18.6">0.12 – 0.14</text>
<rect x="925.0" y="860.6" width="18.9" height="8.8" fill="#c4db00"/>
<text class="b" x="947.3" y="872.4" font-size="18.6">0.14 – 0.16</text>
<rect x="925.0" y="884.8" width="18.9" height="8.8" fill="#ffd900"/>
<text class="b" x="947.3" y="896.6" font-size="18.6">0.16 – 0.17</text>
<rect x="925.0" y="909.0" width="18.9" height="8.8" fill="#ff8a00"/>
<text class="b" x="947.3" y="920.8" font-size="18.6">0.17 – 0.18</text>
<rect x="925.0" y="933.2" width="18.9" height="8.8" fill="#ff2200"/>
<path d="M949.4,933.0L963.2,937.9L949.4,942.8" fill="none" stroke="#111" stroke-width="1.2"/>
<text class="b" x="965.5" y="945.0" font-size="18.6">0.18</text>
</g>
</svg></body></html>
